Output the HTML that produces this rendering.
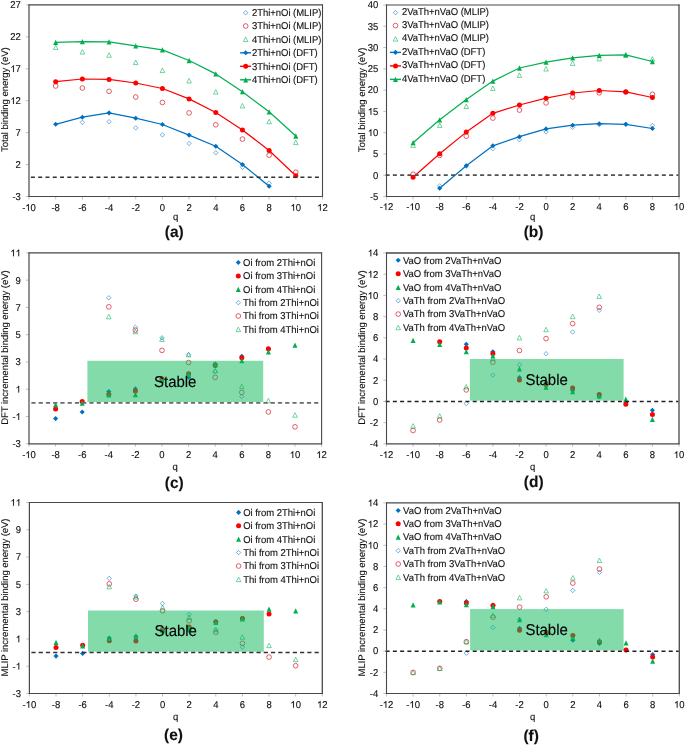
<!DOCTYPE html>
<html><head><meta charset="utf-8"><title>Binding energies</title><style>
html,body{margin:0;padding:0;background:#fff;width:685px;height:745px;overflow:hidden;}
svg{display:block;will-change:transform;text-rendering:geometricPrecision;font-family:"Liberation Sans",sans-serif;}
</style></head><body>
<svg width="685" height="745" viewBox="0 0 685 745" font-size="9.5" letter-spacing="-0.03" fill="#111">
<g stroke="none">
<defs>
<clipPath id="ca"><rect x="25" y="0.9" width="301.5" height="199.6"/></clipPath>
<clipPath id="cb"><rect x="382.5" y="1" width="300.5" height="199.5"/></clipPath>
<clipPath id="cc"><rect x="25" y="248.9" width="300.6" height="198.9"/></clipPath>
<clipPath id="cd"><rect x="382.5" y="249" width="300.5" height="198.8"/></clipPath>
<clipPath id="ce"><rect x="25.4" y="498.5" width="300.9" height="199"/></clipPath>
<clipPath id="cf"><rect x="382.5" y="498.9" width="300.8" height="198.6"/></clipPath>
</defs>
<rect width="685" height="745" fill="#fff"/>
<line x1="25.8" y1="196.5" x2="29" y2="196.5" stroke="#aeb2ba" stroke-width="0.8"/>
<text transform="translate(12.45 199.85) scale(1 1.04)" letter-spacing="0" stroke="#111" stroke-width="0.12">-3</text>
<line x1="25.8" y1="164.57" x2="29" y2="164.57" stroke="#aeb2ba" stroke-width="0.8"/>
<text transform="translate(15.62 167.92) scale(1 1.04)" letter-spacing="0" stroke="#111" stroke-width="0.12">2</text>
<line x1="25.8" y1="132.63" x2="29" y2="132.63" stroke="#aeb2ba" stroke-width="0.8"/>
<text transform="translate(15.62 135.98) scale(1 1.04)" letter-spacing="0" stroke="#111" stroke-width="0.12">7</text>
<line x1="25.8" y1="100.7" x2="29" y2="100.7" stroke="#aeb2ba" stroke-width="0.8"/>
<text transform="translate(10.33 104.05) scale(1 1.04)" letter-spacing="0" stroke="#111" stroke-width="0.12"> 2</text><path transform="translate(10.33 104.05) scale(0.004639 -0.004639)" d="M763 0L583 0L583 1147Q518 1085 412 1023Q305 961 220 930L220 1104Q370 1175 483 1276Q595 1377 642 1466L763 1466Z" stroke="#111" stroke-width="25.87"/>
<line x1="25.8" y1="68.77" x2="29" y2="68.77" stroke="#aeb2ba" stroke-width="0.8"/>
<text transform="translate(10.33 72.12) scale(1 1.04)" letter-spacing="0" stroke="#111" stroke-width="0.12"> 7</text><path transform="translate(10.33 72.12) scale(0.004639 -0.004639)" d="M763 0L583 0L583 1147Q518 1085 412 1023Q305 961 220 930L220 1104Q370 1175 483 1276Q595 1377 642 1466L763 1466Z" stroke="#111" stroke-width="25.87"/>
<line x1="25.8" y1="36.83" x2="29" y2="36.83" stroke="#aeb2ba" stroke-width="0.8"/>
<text transform="translate(10.33 40.18) scale(1 1.04)" letter-spacing="0" stroke="#111" stroke-width="0.12">22</text>
<line x1="25.8" y1="4.9" x2="29" y2="4.9" stroke="#aeb2ba" stroke-width="0.8"/>
<text transform="translate(10.33 8.25) scale(1 1.04)" letter-spacing="0" stroke="#111" stroke-width="0.12">27</text>
<line x1="29" y1="196.5" x2="29" y2="199.5" stroke="#aeb2ba" stroke-width="0.8"/>
<text transform="translate(22.13 210.7) scale(1 1.04)" letter-spacing="0" stroke="#111" stroke-width="0.12">- 0</text><path transform="translate(25.3 210.7) scale(0.004639 -0.004639)" d="M763 0L583 0L583 1147Q518 1085 412 1023Q305 961 220 930L220 1104Q370 1175 483 1276Q595 1377 642 1466L763 1466Z" stroke="#111" stroke-width="25.87"/>
<line x1="55.68" y1="196.5" x2="55.68" y2="199.5" stroke="#aeb2ba" stroke-width="0.8"/>
<text transform="translate(51.46 210.7) scale(1 1.04)" letter-spacing="0" stroke="#111" stroke-width="0.12">-8</text>
<line x1="82.36" y1="196.5" x2="82.36" y2="199.5" stroke="#aeb2ba" stroke-width="0.8"/>
<text transform="translate(78.14 210.7) scale(1 1.04)" letter-spacing="0" stroke="#111" stroke-width="0.12">-6</text>
<line x1="109.05" y1="196.5" x2="109.05" y2="199.5" stroke="#aeb2ba" stroke-width="0.8"/>
<text transform="translate(104.82 210.7) scale(1 1.04)" letter-spacing="0" stroke="#111" stroke-width="0.12">-4</text>
<line x1="135.73" y1="196.5" x2="135.73" y2="199.5" stroke="#aeb2ba" stroke-width="0.8"/>
<text transform="translate(131.5 210.7) scale(1 1.04)" letter-spacing="0" stroke="#111" stroke-width="0.12">-2</text>
<line x1="162.41" y1="196.5" x2="162.41" y2="199.5" stroke="#aeb2ba" stroke-width="0.8"/>
<text transform="translate(159.77 210.7) scale(1 1.04)" letter-spacing="0" stroke="#111" stroke-width="0.12">0</text>
<line x1="189.09" y1="196.5" x2="189.09" y2="199.5" stroke="#aeb2ba" stroke-width="0.8"/>
<text transform="translate(186.45 210.7) scale(1 1.04)" letter-spacing="0" stroke="#111" stroke-width="0.12">2</text>
<line x1="215.77" y1="196.5" x2="215.77" y2="199.5" stroke="#aeb2ba" stroke-width="0.8"/>
<text transform="translate(213.13 210.7) scale(1 1.04)" letter-spacing="0" stroke="#111" stroke-width="0.12">4</text>
<line x1="242.45" y1="196.5" x2="242.45" y2="199.5" stroke="#aeb2ba" stroke-width="0.8"/>
<text transform="translate(239.81 210.7) scale(1 1.04)" letter-spacing="0" stroke="#111" stroke-width="0.12">6</text>
<line x1="269.14" y1="196.5" x2="269.14" y2="199.5" stroke="#aeb2ba" stroke-width="0.8"/>
<text transform="translate(266.49 210.7) scale(1 1.04)" letter-spacing="0" stroke="#111" stroke-width="0.12">8</text>
<line x1="295.82" y1="196.5" x2="295.82" y2="199.5" stroke="#aeb2ba" stroke-width="0.8"/>
<text transform="translate(290.53 210.7) scale(1 1.04)" letter-spacing="0" stroke="#111" stroke-width="0.12"> 0</text><path transform="translate(290.53 210.7) scale(0.004639 -0.004639)" d="M763 0L583 0L583 1147Q518 1085 412 1023Q305 961 220 930L220 1104Q370 1175 483 1276Q595 1377 642 1466L763 1466Z" stroke="#111" stroke-width="25.87"/>
<line x1="322.5" y1="196.5" x2="322.5" y2="199.5" stroke="#aeb2ba" stroke-width="0.8"/>
<text transform="translate(317.22 210.7) scale(1 1.04)" letter-spacing="0" stroke="#111" stroke-width="0.12"> 2</text><path transform="translate(317.22 210.7) scale(0.004639 -0.004639)" d="M763 0L583 0L583 1147Q518 1085 412 1023Q305 961 220 930L220 1104Q370 1175 483 1276Q595 1377 642 1466L763 1466Z" stroke="#111" stroke-width="25.87"/>
<text transform="translate(7.6 99.7) rotate(-90)" text-anchor="middle" font-size="9.6" letter-spacing="-0.08" stroke="#111" stroke-width="0.1">Total binding energy (eV)</text>
<text transform="translate(175.5 219.6) scale(1 1.04)" text-anchor="middle" stroke="#111" stroke-width="0.12">q</text>
<text transform="translate(174.3 236.9) scale(1 1.02)" text-anchor="middle" font-weight="bold" font-size="15.5" letter-spacing="0" stroke="#111" stroke-width="0.12">(a)</text>
<g clip-path="url(#ca)">
<path d="M82.36 120.1L84.56 122.3L82.36 124.5L80.16 122.3Z" fill="none" stroke="#0070C0" stroke-width="0.55"/>
<path d="M109.05 119.5L111.25 121.7L109.05 123.9L106.85 121.7Z" fill="none" stroke="#0070C0" stroke-width="0.55"/>
<path d="M135.73 125.7L137.93 127.9L135.73 130.1L133.53 127.9Z" fill="none" stroke="#0070C0" stroke-width="0.55"/>
<path d="M162.41 132.7L164.61 134.9L162.41 137.1L160.21 134.9Z" fill="none" stroke="#0070C0" stroke-width="0.55"/>
<path d="M189.09 141.3L191.29 143.5L189.09 145.7L186.89 143.5Z" fill="none" stroke="#0070C0" stroke-width="0.55"/>
<path d="M215.77 150.6L217.97 152.8L215.77 155L213.57 152.8Z" fill="none" stroke="#0070C0" stroke-width="0.55"/>
<path d="M242.45 165.1L244.65 167.3L242.45 169.5L240.25 167.3Z" fill="none" stroke="#0070C0" stroke-width="0.55"/>
<path d="M269.14 181L271.34 183.2L269.14 185.4L266.94 183.2Z" fill="none" stroke="#0070C0" stroke-width="0.55"/>
<circle cx="55.68" cy="86" r="2.35" fill="none" stroke="#D41E2E" stroke-width="0.7"/>
<circle cx="82.36" cy="88" r="2.35" fill="none" stroke="#D41E2E" stroke-width="0.7"/>
<circle cx="109.05" cy="91.3" r="2.35" fill="none" stroke="#D41E2E" stroke-width="0.7"/>
<circle cx="135.73" cy="97" r="2.35" fill="none" stroke="#D41E2E" stroke-width="0.7"/>
<circle cx="162.41" cy="102.5" r="2.35" fill="none" stroke="#D41E2E" stroke-width="0.7"/>
<circle cx="189.09" cy="112.9" r="2.35" fill="none" stroke="#D41E2E" stroke-width="0.7"/>
<circle cx="215.77" cy="124.8" r="2.35" fill="none" stroke="#D41E2E" stroke-width="0.7"/>
<circle cx="242.45" cy="139.1" r="2.35" fill="none" stroke="#D41E2E" stroke-width="0.7"/>
<circle cx="269.14" cy="155.2" r="2.35" fill="none" stroke="#D41E2E" stroke-width="0.7"/>
<circle cx="295.82" cy="172.2" r="2.35" fill="none" stroke="#D41E2E" stroke-width="0.7"/>
<path d="M55.68 44.95L57.98 49.45L53.38 49.45Z" fill="none" stroke="#00B050" stroke-width="0.55" stroke-linejoin="miter"/>
<path d="M82.36 49.55L84.66 54.05L80.06 54.05Z" fill="none" stroke="#00B050" stroke-width="0.55" stroke-linejoin="miter"/>
<path d="M109.05 52.75L111.35 57.25L106.75 57.25Z" fill="none" stroke="#00B050" stroke-width="0.55" stroke-linejoin="miter"/>
<path d="M135.73 60.05L138.03 64.55L133.43 64.55Z" fill="none" stroke="#00B050" stroke-width="0.55" stroke-linejoin="miter"/>
<path d="M162.41 68.05L164.71 72.55L160.11 72.55Z" fill="none" stroke="#00B050" stroke-width="0.55" stroke-linejoin="miter"/>
<path d="M189.09 78.45L191.39 82.95L186.79 82.95Z" fill="none" stroke="#00B050" stroke-width="0.55" stroke-linejoin="miter"/>
<path d="M215.77 89.55L218.07 94.05L213.47 94.05Z" fill="none" stroke="#00B050" stroke-width="0.55" stroke-linejoin="miter"/>
<path d="M242.45 103.45L244.75 107.95L240.15 107.95Z" fill="none" stroke="#00B050" stroke-width="0.55" stroke-linejoin="miter"/>
<path d="M269.14 119.25L271.44 123.75L266.84 123.75Z" fill="none" stroke="#00B050" stroke-width="0.55" stroke-linejoin="miter"/>
<path d="M295.82 140.05L298.12 144.55L293.52 144.55Z" fill="none" stroke="#00B050" stroke-width="0.55" stroke-linejoin="miter"/>
<path d="M55.68 124.3 L82.36 117.2 L109.05 112.9 L135.73 118.2 L162.41 124.5 L189.09 135.1 L215.77 146.3 L242.45 164.5 L269.14 186.2" fill="none" stroke="#0070C0" stroke-width="1.22" stroke-linejoin="round"/>
<path d="M55.68 121.75L58.23 124.3L55.68 126.85L53.13 124.3Z" fill="#0070C0"/>
<path d="M82.36 114.65L84.91 117.2L82.36 119.75L79.81 117.2Z" fill="#0070C0"/>
<path d="M109.05 110.35L111.6 112.9L109.05 115.45L106.5 112.9Z" fill="#0070C0"/>
<path d="M135.73 115.65L138.28 118.2L135.73 120.75L133.18 118.2Z" fill="#0070C0"/>
<path d="M162.41 121.95L164.96 124.5L162.41 127.05L159.86 124.5Z" fill="#0070C0"/>
<path d="M189.09 132.55L191.64 135.1L189.09 137.65L186.54 135.1Z" fill="#0070C0"/>
<path d="M215.77 143.75L218.32 146.3L215.77 148.85L213.22 146.3Z" fill="#0070C0"/>
<path d="M242.45 161.95L245 164.5L242.45 167.05L239.9 164.5Z" fill="#0070C0"/>
<path d="M269.14 183.65L271.69 186.2L269.14 188.75L266.59 186.2Z" fill="#0070C0"/>
<path d="M55.68 81.7 L82.36 79 L109.05 79.4 L135.73 83 L162.41 88.5 L189.09 98.9 L215.77 112.5 L242.45 129.9 L269.14 150.5 L295.82 175.7" fill="none" stroke="#FF0000" stroke-width="1.22" stroke-linejoin="round"/>
<circle cx="55.68" cy="81.7" r="2.5" fill="#FF0000"/>
<circle cx="82.36" cy="79" r="2.5" fill="#FF0000"/>
<circle cx="109.05" cy="79.4" r="2.5" fill="#FF0000"/>
<circle cx="135.73" cy="83" r="2.5" fill="#FF0000"/>
<circle cx="162.41" cy="88.5" r="2.5" fill="#FF0000"/>
<circle cx="189.09" cy="98.9" r="2.5" fill="#FF0000"/>
<circle cx="215.77" cy="112.5" r="2.5" fill="#FF0000"/>
<circle cx="242.45" cy="129.9" r="2.5" fill="#FF0000"/>
<circle cx="269.14" cy="150.5" r="2.5" fill="#FF0000"/>
<circle cx="295.82" cy="175.7" r="2.5" fill="#FF0000"/>
<path d="M55.68 42.3 L82.36 41.6 L109.05 41.9 L135.73 45.9 L162.41 49.9 L189.09 60.5 L215.77 73.9 L242.45 91.7 L269.14 111.8 L295.82 136" fill="none" stroke="#00B050" stroke-width="1.22" stroke-linejoin="round"/>
<path d="M55.68 39.65L58.18 44.95L53.18 44.95Z" fill="#00B050"/>
<path d="M82.36 38.95L84.86 44.25L79.86 44.25Z" fill="#00B050"/>
<path d="M109.05 39.25L111.55 44.55L106.55 44.55Z" fill="#00B050"/>
<path d="M135.73 43.25L138.23 48.55L133.23 48.55Z" fill="#00B050"/>
<path d="M162.41 47.25L164.91 52.55L159.91 52.55Z" fill="#00B050"/>
<path d="M189.09 57.85L191.59 63.15L186.59 63.15Z" fill="#00B050"/>
<path d="M215.77 71.25L218.27 76.55L213.27 76.55Z" fill="#00B050"/>
<path d="M242.45 89.05L244.95 94.35L239.95 94.35Z" fill="#00B050"/>
<path d="M269.14 109.15L271.64 114.45L266.64 114.45Z" fill="#00B050"/>
<path d="M295.82 133.35L298.32 138.65L293.32 138.65Z" fill="#00B050"/>
</g>
<line x1="30.9" y1="177.3" x2="321.9" y2="177.3" stroke="#333" stroke-width="1.6" stroke-dasharray="4 3.283"/>
<line x1="29" y1="4.4" x2="29" y2="197" stroke="#46484e" stroke-width="1.2"/>
<line x1="28.5" y1="4.9" x2="323" y2="4.9" stroke="#46484e" stroke-width="1.2"/>
<line x1="322.5" y1="4.4" x2="322.5" y2="197" stroke="#46484e" stroke-width="1.1"/>
<line x1="28.5" y1="196.5" x2="323" y2="196.5" stroke="#46484e" stroke-width="1.1"/>
<path d="M245.7 10.6L247.9 12.8L245.7 15L243.5 12.8Z" fill="none" stroke="#0070C0" stroke-width="0.55"/>
<text transform="translate(251.9 16.15) scale(1 1.04)" stroke="#111" stroke-width="0.12">2Thi+nOi (MLIP)</text>
<circle cx="245.7" cy="26" r="2.35" fill="none" stroke="#D41E2E" stroke-width="0.7"/>
<text transform="translate(251.9 29.35) scale(1 1.04)" stroke="#111" stroke-width="0.12">3Thi+nOi (MLIP)</text>
<path d="M245.7 37.05L248 41.55L243.4 41.55Z" fill="none" stroke="#00B050" stroke-width="0.55" stroke-linejoin="miter"/>
<text transform="translate(251.9 42.65) scale(1 1.04)" stroke="#111" stroke-width="0.12">4Thi+nOi (MLIP)</text>
<line x1="240.1" y1="52.8" x2="251.1" y2="52.8" stroke="#0070C0" stroke-width="1.4"/>
<path d="M245.7 50.25L248.25 52.8L245.7 55.35L243.15 52.8Z" fill="#0070C0"/>
<text transform="translate(251.9 56.15) scale(1 1.04)" stroke="#111" stroke-width="0.12">2Thi+nOi (DFT)</text>
<line x1="240.1" y1="66.3" x2="251.1" y2="66.3" stroke="#FF0000" stroke-width="1.4"/>
<circle cx="245.7" cy="66.3" r="2.5" fill="#FF0000"/>
<text transform="translate(251.9 69.65) scale(1 1.04)" stroke="#111" stroke-width="0.12">3Thi+nOi (DFT)</text>
<line x1="240.1" y1="79.8" x2="251.1" y2="79.8" stroke="#00B050" stroke-width="1.4"/>
<path d="M245.7 77.15L248.2 82.45L243.2 82.45Z" fill="#00B050"/>
<text transform="translate(251.9 83.15) scale(1 1.04)" stroke="#111" stroke-width="0.12">4Thi+nOi (DFT)</text>
<line x1="383.3" y1="196.5" x2="386.5" y2="196.5" stroke="#aeb2ba" stroke-width="0.8"/>
<text transform="translate(369.95 199.85) scale(1 1.04)" letter-spacing="0" stroke="#111" stroke-width="0.12">-5</text>
<line x1="383.3" y1="175.22" x2="386.5" y2="175.22" stroke="#aeb2ba" stroke-width="0.8"/>
<text transform="translate(373.12 178.57) scale(1 1.04)" letter-spacing="0" stroke="#111" stroke-width="0.12">0</text>
<line x1="383.3" y1="153.94" x2="386.5" y2="153.94" stroke="#aeb2ba" stroke-width="0.8"/>
<text transform="translate(373.12 157.29) scale(1 1.04)" letter-spacing="0" stroke="#111" stroke-width="0.12">5</text>
<line x1="383.3" y1="132.67" x2="386.5" y2="132.67" stroke="#aeb2ba" stroke-width="0.8"/>
<text transform="translate(367.83 136.02) scale(1 1.04)" letter-spacing="0" stroke="#111" stroke-width="0.12"> 0</text><path transform="translate(367.83 136.02) scale(0.004639 -0.004639)" d="M763 0L583 0L583 1147Q518 1085 412 1023Q305 961 220 930L220 1104Q370 1175 483 1276Q595 1377 642 1466L763 1466Z" stroke="#111" stroke-width="25.87"/>
<line x1="383.3" y1="111.39" x2="386.5" y2="111.39" stroke="#aeb2ba" stroke-width="0.8"/>
<text transform="translate(367.83 114.74) scale(1 1.04)" letter-spacing="0" stroke="#111" stroke-width="0.12"> 5</text><path transform="translate(367.83 114.74) scale(0.004639 -0.004639)" d="M763 0L583 0L583 1147Q518 1085 412 1023Q305 961 220 930L220 1104Q370 1175 483 1276Q595 1377 642 1466L763 1466Z" stroke="#111" stroke-width="25.87"/>
<line x1="383.3" y1="90.11" x2="386.5" y2="90.11" stroke="#aeb2ba" stroke-width="0.8"/>
<text transform="translate(367.83 93.46) scale(1 1.04)" letter-spacing="0" stroke="#111" stroke-width="0.12">20</text>
<line x1="383.3" y1="68.83" x2="386.5" y2="68.83" stroke="#aeb2ba" stroke-width="0.8"/>
<text transform="translate(367.83 72.18) scale(1 1.04)" letter-spacing="0" stroke="#111" stroke-width="0.12">25</text>
<line x1="383.3" y1="47.56" x2="386.5" y2="47.56" stroke="#aeb2ba" stroke-width="0.8"/>
<text transform="translate(367.83 50.91) scale(1 1.04)" letter-spacing="0" stroke="#111" stroke-width="0.12">30</text>
<line x1="383.3" y1="26.28" x2="386.5" y2="26.28" stroke="#aeb2ba" stroke-width="0.8"/>
<text transform="translate(367.83 29.63) scale(1 1.04)" letter-spacing="0" stroke="#111" stroke-width="0.12">35</text>
<line x1="383.3" y1="5" x2="386.5" y2="5" stroke="#aeb2ba" stroke-width="0.8"/>
<text transform="translate(367.83 8.35) scale(1 1.04)" letter-spacing="0" stroke="#111" stroke-width="0.12">40</text>
<line x1="386.5" y1="196.5" x2="386.5" y2="199.5" stroke="#aeb2ba" stroke-width="0.8"/>
<text transform="translate(379.63 210.1) scale(1 1.04)" letter-spacing="0" stroke="#111" stroke-width="0.12">- 2</text><path transform="translate(382.8 210.1) scale(0.004639 -0.004639)" d="M763 0L583 0L583 1147Q518 1085 412 1023Q305 961 220 930L220 1104Q370 1175 483 1276Q595 1377 642 1466L763 1466Z" stroke="#111" stroke-width="25.87"/>
<line x1="413.09" y1="196.5" x2="413.09" y2="199.5" stroke="#aeb2ba" stroke-width="0.8"/>
<text transform="translate(406.23 210.1) scale(1 1.04)" letter-spacing="0" stroke="#111" stroke-width="0.12">- 0</text><path transform="translate(409.39 210.1) scale(0.004639 -0.004639)" d="M763 0L583 0L583 1147Q518 1085 412 1023Q305 961 220 930L220 1104Q370 1175 483 1276Q595 1377 642 1466L763 1466Z" stroke="#111" stroke-width="25.87"/>
<line x1="439.68" y1="196.5" x2="439.68" y2="199.5" stroke="#aeb2ba" stroke-width="0.8"/>
<text transform="translate(435.46 210.1) scale(1 1.04)" letter-spacing="0" stroke="#111" stroke-width="0.12">-8</text>
<line x1="466.27" y1="196.5" x2="466.27" y2="199.5" stroke="#aeb2ba" stroke-width="0.8"/>
<text transform="translate(462.05 210.1) scale(1 1.04)" letter-spacing="0" stroke="#111" stroke-width="0.12">-6</text>
<line x1="492.86" y1="196.5" x2="492.86" y2="199.5" stroke="#aeb2ba" stroke-width="0.8"/>
<text transform="translate(488.64 210.1) scale(1 1.04)" letter-spacing="0" stroke="#111" stroke-width="0.12">-4</text>
<line x1="519.45" y1="196.5" x2="519.45" y2="199.5" stroke="#aeb2ba" stroke-width="0.8"/>
<text transform="translate(515.23 210.1) scale(1 1.04)" letter-spacing="0" stroke="#111" stroke-width="0.12">-2</text>
<line x1="546.05" y1="196.5" x2="546.05" y2="199.5" stroke="#aeb2ba" stroke-width="0.8"/>
<text transform="translate(543.4 210.1) scale(1 1.04)" letter-spacing="0" stroke="#111" stroke-width="0.12">0</text>
<line x1="572.64" y1="196.5" x2="572.64" y2="199.5" stroke="#aeb2ba" stroke-width="0.8"/>
<text transform="translate(569.99 210.1) scale(1 1.04)" letter-spacing="0" stroke="#111" stroke-width="0.12">2</text>
<line x1="599.23" y1="196.5" x2="599.23" y2="199.5" stroke="#aeb2ba" stroke-width="0.8"/>
<text transform="translate(596.59 210.1) scale(1 1.04)" letter-spacing="0" stroke="#111" stroke-width="0.12">4</text>
<line x1="625.82" y1="196.5" x2="625.82" y2="199.5" stroke="#aeb2ba" stroke-width="0.8"/>
<text transform="translate(623.18 210.1) scale(1 1.04)" letter-spacing="0" stroke="#111" stroke-width="0.12">6</text>
<line x1="652.41" y1="196.5" x2="652.41" y2="199.5" stroke="#aeb2ba" stroke-width="0.8"/>
<text transform="translate(649.77 210.1) scale(1 1.04)" letter-spacing="0" stroke="#111" stroke-width="0.12">8</text>
<line x1="679" y1="196.5" x2="679" y2="199.5" stroke="#aeb2ba" stroke-width="0.8"/>
<text transform="translate(673.72 210.1) scale(1 1.04)" letter-spacing="0" stroke="#111" stroke-width="0.12"> 0</text><path transform="translate(673.72 210.1) scale(0.004639 -0.004639)" d="M763 0L583 0L583 1147Q518 1085 412 1023Q305 961 220 930L220 1104Q370 1175 483 1276Q595 1377 642 1466L763 1466Z" stroke="#111" stroke-width="25.87"/>
<text transform="translate(365.2 99.9) rotate(-90)" text-anchor="middle" font-size="9.6" letter-spacing="-0.08" stroke="#111" stroke-width="0.1">Total binding energy (eV)</text>
<text transform="translate(532.5 220) scale(1 1.04)" text-anchor="middle" stroke="#111" stroke-width="0.12">q</text>
<text transform="translate(533.6 236.6) scale(1 1.02)" text-anchor="middle" font-weight="bold" font-size="15.5" letter-spacing="0" stroke="#111" stroke-width="0.12">(b)</text>
<g clip-path="url(#cb)">
<path d="M439.68 183.7L441.88 185.9L439.68 188.1L437.48 185.9Z" fill="none" stroke="#0070C0" stroke-width="0.55"/>
<path d="M466.27 163.8L468.47 166L466.27 168.2L464.07 166Z" fill="none" stroke="#0070C0" stroke-width="0.55"/>
<path d="M492.86 146.5L495.06 148.7L492.86 150.9L490.66 148.7Z" fill="none" stroke="#0070C0" stroke-width="0.55"/>
<path d="M519.45 137.5L521.65 139.7L519.45 141.9L517.25 139.7Z" fill="none" stroke="#0070C0" stroke-width="0.55"/>
<path d="M546.05 129.8L548.25 132L546.05 134.2L543.85 132Z" fill="none" stroke="#0070C0" stroke-width="0.55"/>
<path d="M572.64 125.1L574.84 127.3L572.64 129.5L570.44 127.3Z" fill="none" stroke="#0070C0" stroke-width="0.55"/>
<path d="M599.23 122.3L601.43 124.5L599.23 126.7L597.03 124.5Z" fill="none" stroke="#0070C0" stroke-width="0.55"/>
<path d="M625.82 122.1L628.02 124.3L625.82 126.5L623.62 124.3Z" fill="none" stroke="#0070C0" stroke-width="0.55"/>
<path d="M652.41 123.3L654.61 125.5L652.41 127.7L650.21 125.5Z" fill="none" stroke="#0070C0" stroke-width="0.55"/>
<circle cx="413.09" cy="174.2" r="2.35" fill="none" stroke="#D41E2E" stroke-width="0.7"/>
<circle cx="439.68" cy="155.4" r="2.35" fill="none" stroke="#D41E2E" stroke-width="0.7"/>
<circle cx="466.27" cy="136.2" r="2.35" fill="none" stroke="#D41E2E" stroke-width="0.7"/>
<circle cx="492.86" cy="118.1" r="2.35" fill="none" stroke="#D41E2E" stroke-width="0.7"/>
<circle cx="519.45" cy="110.1" r="2.35" fill="none" stroke="#D41E2E" stroke-width="0.7"/>
<circle cx="546.05" cy="102.9" r="2.35" fill="none" stroke="#D41E2E" stroke-width="0.7"/>
<circle cx="572.64" cy="96.9" r="2.35" fill="none" stroke="#D41E2E" stroke-width="0.7"/>
<circle cx="599.23" cy="92.8" r="2.35" fill="none" stroke="#D41E2E" stroke-width="0.7"/>
<circle cx="625.82" cy="91.9" r="2.35" fill="none" stroke="#D41E2E" stroke-width="0.7"/>
<circle cx="652.41" cy="94.3" r="2.35" fill="none" stroke="#D41E2E" stroke-width="0.7"/>
<path d="M413.09 142.95L415.39 147.45L410.79 147.45Z" fill="none" stroke="#00B050" stroke-width="0.55" stroke-linejoin="miter"/>
<path d="M439.68 122.95L441.98 127.45L437.38 127.45Z" fill="none" stroke="#00B050" stroke-width="0.55" stroke-linejoin="miter"/>
<path d="M466.27 104.05L468.57 108.55L463.97 108.55Z" fill="none" stroke="#00B050" stroke-width="0.55" stroke-linejoin="miter"/>
<path d="M492.86 85.95L495.16 90.45L490.56 90.45Z" fill="none" stroke="#00B050" stroke-width="0.55" stroke-linejoin="miter"/>
<path d="M519.45 72.95L521.75 77.45L517.15 77.45Z" fill="none" stroke="#00B050" stroke-width="0.55" stroke-linejoin="miter"/>
<path d="M546.05 66.55L548.35 71.05L543.75 71.05Z" fill="none" stroke="#00B050" stroke-width="0.55" stroke-linejoin="miter"/>
<path d="M572.64 60.95L574.94 65.45L570.34 65.45Z" fill="none" stroke="#00B050" stroke-width="0.55" stroke-linejoin="miter"/>
<path d="M599.23 56.45L601.53 60.95L596.93 60.95Z" fill="none" stroke="#00B050" stroke-width="0.55" stroke-linejoin="miter"/>
<path d="M625.82 52.65L628.12 57.15L623.52 57.15Z" fill="none" stroke="#00B050" stroke-width="0.55" stroke-linejoin="miter"/>
<path d="M652.41 56.65L654.71 61.15L650.11 61.15Z" fill="none" stroke="#00B050" stroke-width="0.55" stroke-linejoin="miter"/>
<path d="M439.68 188.3 L466.27 165.8 L492.86 145.8 L519.45 136.7 L546.05 128.9 L572.64 125.2 L599.23 123.7 L625.82 124.3 L652.41 128.5" fill="none" stroke="#0070C0" stroke-width="1.22" stroke-linejoin="round"/>
<path d="M439.68 185.75L442.23 188.3L439.68 190.85L437.13 188.3Z" fill="#0070C0"/>
<path d="M466.27 163.25L468.82 165.8L466.27 168.35L463.72 165.8Z" fill="#0070C0"/>
<path d="M492.86 143.25L495.41 145.8L492.86 148.35L490.31 145.8Z" fill="#0070C0"/>
<path d="M519.45 134.15L522 136.7L519.45 139.25L516.9 136.7Z" fill="#0070C0"/>
<path d="M546.05 126.35L548.6 128.9L546.05 131.45L543.5 128.9Z" fill="#0070C0"/>
<path d="M572.64 122.65L575.19 125.2L572.64 127.75L570.09 125.2Z" fill="#0070C0"/>
<path d="M599.23 121.15L601.78 123.7L599.23 126.25L596.68 123.7Z" fill="#0070C0"/>
<path d="M625.82 121.75L628.37 124.3L625.82 126.85L623.27 124.3Z" fill="#0070C0"/>
<path d="M652.41 125.95L654.96 128.5L652.41 131.05L649.86 128.5Z" fill="#0070C0"/>
<path d="M413.09 177.3 L439.68 153.8 L466.27 132.1 L492.86 113.3 L519.45 105 L546.05 98.2 L572.64 93 L599.23 90.5 L625.82 91.9 L652.41 97.5" fill="none" stroke="#FF0000" stroke-width="1.22" stroke-linejoin="round"/>
<circle cx="413.09" cy="177.3" r="2.5" fill="#FF0000"/>
<circle cx="439.68" cy="153.8" r="2.5" fill="#FF0000"/>
<circle cx="466.27" cy="132.1" r="2.5" fill="#FF0000"/>
<circle cx="492.86" cy="113.3" r="2.5" fill="#FF0000"/>
<circle cx="519.45" cy="105" r="2.5" fill="#FF0000"/>
<circle cx="546.05" cy="98.2" r="2.5" fill="#FF0000"/>
<circle cx="572.64" cy="93" r="2.5" fill="#FF0000"/>
<circle cx="599.23" cy="90.5" r="2.5" fill="#FF0000"/>
<circle cx="625.82" cy="91.9" r="2.5" fill="#FF0000"/>
<circle cx="652.41" cy="97.5" r="2.5" fill="#FF0000"/>
<path d="M413.09 142.7 L439.68 119.8 L466.27 99.6 L492.86 81.1 L519.45 68 L546.05 62.1 L572.64 57.9 L599.23 55.4 L625.82 54.9 L652.41 61.5" fill="none" stroke="#00B050" stroke-width="1.22" stroke-linejoin="round"/>
<path d="M413.09 140.05L415.59 145.35L410.59 145.35Z" fill="#00B050"/>
<path d="M439.68 117.15L442.18 122.45L437.18 122.45Z" fill="#00B050"/>
<path d="M466.27 96.95L468.77 102.25L463.77 102.25Z" fill="#00B050"/>
<path d="M492.86 78.45L495.36 83.75L490.36 83.75Z" fill="#00B050"/>
<path d="M519.45 65.35L521.95 70.65L516.95 70.65Z" fill="#00B050"/>
<path d="M546.05 59.45L548.55 64.75L543.55 64.75Z" fill="#00B050"/>
<path d="M572.64 55.25L575.14 60.55L570.14 60.55Z" fill="#00B050"/>
<path d="M599.23 52.75L601.73 58.05L596.73 58.05Z" fill="#00B050"/>
<path d="M625.82 52.25L628.32 57.55L623.32 57.55Z" fill="#00B050"/>
<path d="M652.41 58.85L654.91 64.15L649.91 64.15Z" fill="#00B050"/>
</g>
<line x1="385.6" y1="175.1" x2="678.4" y2="175.1" stroke="#505050" stroke-width="1.7" stroke-dasharray="4 3.27"/>
<line x1="386.5" y1="4.5" x2="386.5" y2="197" stroke="#46484e" stroke-width="1.1"/>
<line x1="386" y1="5" x2="679.5" y2="5" stroke="#46484e" stroke-width="1.2"/>
<line x1="679" y1="4.5" x2="679" y2="197" stroke="#46484e" stroke-width="1.3"/>
<line x1="386" y1="196.5" x2="679.5" y2="196.5" stroke="#46484e" stroke-width="1.1"/>
<path d="M395.5 10.4L397.7 12.6L395.5 14.8L393.3 12.6Z" fill="none" stroke="#0070C0" stroke-width="0.55"/>
<text transform="translate(401.9 15.15) scale(1 1.04)" stroke="#111" stroke-width="0.12">2VaTh+nVaO (MLIP)</text>
<circle cx="395.5" cy="25.6" r="2.35" fill="none" stroke="#D41E2E" stroke-width="0.7"/>
<text transform="translate(401.9 28.15) scale(1 1.04)" stroke="#111" stroke-width="0.12">3VaTh+nVaO (MLIP)</text>
<path d="M395.5 36.65L397.8 41.15L393.2 41.15Z" fill="none" stroke="#00B050" stroke-width="0.55" stroke-linejoin="miter"/>
<text transform="translate(401.9 41.45) scale(1 1.04)" stroke="#111" stroke-width="0.12">4VaTh+nVaO (MLIP)</text>
<line x1="389.9" y1="52.4" x2="401" y2="52.4" stroke="#0070C0" stroke-width="1.4"/>
<path d="M395.5 49.85L398.05 52.4L395.5 54.95L392.95 52.4Z" fill="#0070C0"/>
<text transform="translate(401.9 54.95) scale(1 1.04)" stroke="#111" stroke-width="0.12">2VaTh+nVaO (DFT)</text>
<line x1="389.9" y1="65.9" x2="401" y2="65.9" stroke="#FF0000" stroke-width="1.4"/>
<circle cx="395.5" cy="65.9" r="2.5" fill="#FF0000"/>
<text transform="translate(401.9 68.45) scale(1 1.04)" stroke="#111" stroke-width="0.12">3VaTh+nVaO (DFT)</text>
<line x1="389.9" y1="79.4" x2="401" y2="79.4" stroke="#00B050" stroke-width="1.4"/>
<path d="M395.5 76.75L398 82.05L393 82.05Z" fill="#00B050"/>
<text transform="translate(401.9 81.95) scale(1 1.04)" stroke="#111" stroke-width="0.12">4VaTh+nVaO (DFT)</text>
<line x1="25.8" y1="443.8" x2="29" y2="443.8" stroke="#aeb2ba" stroke-width="0.8"/>
<text transform="translate(12.45 447.15) scale(1 1.04)" letter-spacing="0" stroke="#111" stroke-width="0.12">-3</text>
<line x1="25.8" y1="416.53" x2="29" y2="416.53" stroke="#aeb2ba" stroke-width="0.8"/>
<text transform="translate(12.45 419.88) scale(1 1.04)" letter-spacing="0" stroke="#111" stroke-width="0.12">- </text><path transform="translate(15.62 419.88) scale(0.004639 -0.004639)" d="M763 0L583 0L583 1147Q518 1085 412 1023Q305 961 220 930L220 1104Q370 1175 483 1276Q595 1377 642 1466L763 1466Z" stroke="#111" stroke-width="25.87"/>
<line x1="25.8" y1="389.26" x2="29" y2="389.26" stroke="#aeb2ba" stroke-width="0.8"/>
<text transform="translate(15.62 392.61) scale(1 1.04)" letter-spacing="0" stroke="#111" stroke-width="0.12"> </text><path transform="translate(15.62 392.61) scale(0.004639 -0.004639)" d="M763 0L583 0L583 1147Q518 1085 412 1023Q305 961 220 930L220 1104Q370 1175 483 1276Q595 1377 642 1466L763 1466Z" stroke="#111" stroke-width="25.87"/>
<line x1="25.8" y1="361.99" x2="29" y2="361.99" stroke="#aeb2ba" stroke-width="0.8"/>
<text transform="translate(15.62 365.34) scale(1 1.04)" letter-spacing="0" stroke="#111" stroke-width="0.12">3</text>
<line x1="25.8" y1="334.71" x2="29" y2="334.71" stroke="#aeb2ba" stroke-width="0.8"/>
<text transform="translate(15.62 338.06) scale(1 1.04)" letter-spacing="0" stroke="#111" stroke-width="0.12">5</text>
<line x1="25.8" y1="307.44" x2="29" y2="307.44" stroke="#aeb2ba" stroke-width="0.8"/>
<text transform="translate(15.62 310.79) scale(1 1.04)" letter-spacing="0" stroke="#111" stroke-width="0.12">7</text>
<line x1="25.8" y1="280.17" x2="29" y2="280.17" stroke="#aeb2ba" stroke-width="0.8"/>
<text transform="translate(15.62 283.52) scale(1 1.04)" letter-spacing="0" stroke="#111" stroke-width="0.12">9</text>
<line x1="25.8" y1="252.9" x2="29" y2="252.9" stroke="#aeb2ba" stroke-width="0.8"/>
<text transform="translate(10.33 256.25) scale(1 1.04)" letter-spacing="0" stroke="#111" stroke-width="0.12">  </text><path transform="translate(10.33 256.25) scale(0.004639 -0.004639)" d="M763 0L583 0L583 1147Q518 1085 412 1023Q305 961 220 930L220 1104Q370 1175 483 1276Q595 1377 642 1466L763 1466Z" stroke="#111" stroke-width="25.87"/><path transform="translate(15.62 256.25) scale(0.004639 -0.004639)" d="M763 0L583 0L583 1147Q518 1085 412 1023Q305 961 220 930L220 1104Q370 1175 483 1276Q595 1377 642 1466L763 1466Z" stroke="#111" stroke-width="25.87"/>
<line x1="29" y1="443.8" x2="29" y2="446.8" stroke="#aeb2ba" stroke-width="0.8"/>
<text transform="translate(22.13 458) scale(1 1.04)" letter-spacing="0" stroke="#111" stroke-width="0.12">- 0</text><path transform="translate(25.3 458) scale(0.004639 -0.004639)" d="M763 0L583 0L583 1147Q518 1085 412 1023Q305 961 220 930L220 1104Q370 1175 483 1276Q595 1377 642 1466L763 1466Z" stroke="#111" stroke-width="25.87"/>
<line x1="55.6" y1="443.8" x2="55.6" y2="446.8" stroke="#aeb2ba" stroke-width="0.8"/>
<text transform="translate(51.38 458) scale(1 1.04)" letter-spacing="0" stroke="#111" stroke-width="0.12">-8</text>
<line x1="82.2" y1="443.8" x2="82.2" y2="446.8" stroke="#aeb2ba" stroke-width="0.8"/>
<text transform="translate(77.98 458) scale(1 1.04)" letter-spacing="0" stroke="#111" stroke-width="0.12">-6</text>
<line x1="108.8" y1="443.8" x2="108.8" y2="446.8" stroke="#aeb2ba" stroke-width="0.8"/>
<text transform="translate(104.58 458) scale(1 1.04)" letter-spacing="0" stroke="#111" stroke-width="0.12">-4</text>
<line x1="135.4" y1="443.8" x2="135.4" y2="446.8" stroke="#aeb2ba" stroke-width="0.8"/>
<text transform="translate(131.18 458) scale(1 1.04)" letter-spacing="0" stroke="#111" stroke-width="0.12">-2</text>
<line x1="162" y1="443.8" x2="162" y2="446.8" stroke="#aeb2ba" stroke-width="0.8"/>
<text transform="translate(159.36 458) scale(1 1.04)" letter-spacing="0" stroke="#111" stroke-width="0.12">0</text>
<line x1="188.6" y1="443.8" x2="188.6" y2="446.8" stroke="#aeb2ba" stroke-width="0.8"/>
<text transform="translate(185.96 458) scale(1 1.04)" letter-spacing="0" stroke="#111" stroke-width="0.12">2</text>
<line x1="215.2" y1="443.8" x2="215.2" y2="446.8" stroke="#aeb2ba" stroke-width="0.8"/>
<text transform="translate(212.56 458) scale(1 1.04)" letter-spacing="0" stroke="#111" stroke-width="0.12">4</text>
<line x1="241.8" y1="443.8" x2="241.8" y2="446.8" stroke="#aeb2ba" stroke-width="0.8"/>
<text transform="translate(239.16 458) scale(1 1.04)" letter-spacing="0" stroke="#111" stroke-width="0.12">6</text>
<line x1="268.4" y1="443.8" x2="268.4" y2="446.8" stroke="#aeb2ba" stroke-width="0.8"/>
<text transform="translate(265.76 458) scale(1 1.04)" letter-spacing="0" stroke="#111" stroke-width="0.12">8</text>
<line x1="295" y1="443.8" x2="295" y2="446.8" stroke="#aeb2ba" stroke-width="0.8"/>
<text transform="translate(289.72 458) scale(1 1.04)" letter-spacing="0" stroke="#111" stroke-width="0.12"> 0</text><path transform="translate(289.72 458) scale(0.004639 -0.004639)" d="M763 0L583 0L583 1147Q518 1085 412 1023Q305 961 220 930L220 1104Q370 1175 483 1276Q595 1377 642 1466L763 1466Z" stroke="#111" stroke-width="25.87"/>
<line x1="321.6" y1="443.8" x2="321.6" y2="446.8" stroke="#aeb2ba" stroke-width="0.8"/>
<text transform="translate(316.32 458) scale(1 1.04)" letter-spacing="0" stroke="#111" stroke-width="0.12"> 2</text><path transform="translate(316.32 458) scale(0.004639 -0.004639)" d="M763 0L583 0L583 1147Q518 1085 412 1023Q305 961 220 930L220 1104Q370 1175 483 1276Q595 1377 642 1466L763 1466Z" stroke="#111" stroke-width="25.87"/>
<text transform="translate(7.5 347.6) rotate(-90)" text-anchor="middle" font-size="9.6" letter-spacing="-0.08" stroke="#111" stroke-width="0.1">DFT incremental binding energy (eV)</text>
<text transform="translate(175.1 470.4) scale(1 1.04)" text-anchor="middle" stroke="#111" stroke-width="0.12">q</text>
<text transform="translate(174.2 487.5) scale(1 1.02)" text-anchor="middle" font-weight="bold" font-size="15.5" letter-spacing="0" stroke="#111" stroke-width="0.12">(c)</text>
<g clip-path="url(#cc)">
<path d="M55.6 416.05L58.15 418.6L55.6 421.15L53.05 418.6Z" fill="#0070C0"/>
<path d="M82.2 409.45L84.75 412L82.2 414.55L79.65 412Z" fill="#0070C0"/>
<path d="M108.8 389.05L111.35 391.6L108.8 394.15L106.25 391.6Z" fill="#0070C0"/>
<path d="M135.4 386.35L137.95 388.9L135.4 391.45L132.85 388.9Z" fill="#0070C0"/>
<path d="M162 378.45L164.55 381L162 383.55L159.45 381Z" fill="#0070C0"/>
<path d="M188.6 374.95L191.15 377.5L188.6 380.05L186.05 377.5Z" fill="#0070C0"/>
<path d="M215.2 361.45L217.75 364L215.2 366.55L212.65 364Z" fill="#0070C0"/>
<path d="M241.8 353.65L244.35 356.2L241.8 358.75L239.25 356.2Z" fill="#0070C0"/>
<path d="M268.4 346.95L270.95 349.5L268.4 352.05L265.85 349.5Z" fill="#0070C0"/>
<circle cx="55.6" cy="408.9" r="2.5" fill="#FF0000"/>
<circle cx="82.2" cy="401.4" r="2.5" fill="#FF0000"/>
<circle cx="108.8" cy="394.5" r="2.5" fill="#FF0000"/>
<circle cx="135.4" cy="390.9" r="2.5" fill="#FF0000"/>
<circle cx="162" cy="378.8" r="2.5" fill="#FF0000"/>
<circle cx="188.6" cy="373.8" r="2.5" fill="#FF0000"/>
<circle cx="215.2" cy="365.5" r="2.5" fill="#FF0000"/>
<circle cx="241.8" cy="357.7" r="2.5" fill="#FF0000"/>
<circle cx="268.4" cy="348.8" r="2.5" fill="#FF0000"/>
<path d="M55.6 401.95L58.1 407.25L53.1 407.25Z" fill="#00B050"/>
<path d="M82.2 400.35L84.7 405.65L79.7 405.65Z" fill="#00B050"/>
<path d="M108.8 392.15L111.3 397.45L106.3 397.45Z" fill="#00B050"/>
<path d="M135.4 391.85L137.9 397.15L132.9 397.15Z" fill="#00B050"/>
<path d="M162 377.35L164.5 382.65L159.5 382.65Z" fill="#00B050"/>
<path d="M188.6 371.55L191.1 376.85L186.1 376.85Z" fill="#00B050"/>
<path d="M215.2 361.65L217.7 366.95L212.7 366.95Z" fill="#00B050"/>
<path d="M241.8 358.05L244.3 363.35L239.3 363.35Z" fill="#00B050"/>
<path d="M268.4 349.15L270.9 354.45L265.9 354.45Z" fill="#00B050"/>
<path d="M295 342.55L297.5 347.85L292.5 347.85Z" fill="#00B050"/>
<path d="M108.8 295.6L111 297.8L108.8 300L106.6 297.8Z" fill="none" stroke="#0070C0" stroke-width="0.55"/>
<path d="M135.4 325L137.6 327.2L135.4 329.4L133.2 327.2Z" fill="none" stroke="#0070C0" stroke-width="0.55"/>
<path d="M162 335.6L164.2 337.8L162 340L159.8 337.8Z" fill="none" stroke="#0070C0" stroke-width="0.55"/>
<path d="M188.6 352.5L190.8 354.7L188.6 356.9L186.4 354.7Z" fill="none" stroke="#0070C0" stroke-width="0.55"/>
<path d="M215.2 369.1L217.4 371.3L215.2 373.5L213 371.3Z" fill="none" stroke="#0070C0" stroke-width="0.55"/>
<path d="M241.8 394.4L244 396.6L241.8 398.8L239.6 396.6Z" fill="none" stroke="#0070C0" stroke-width="0.55"/>
<circle cx="108.8" cy="306.8" r="2.35" fill="none" stroke="#D41E2E" stroke-width="0.7"/>
<circle cx="135.4" cy="330.1" r="2.35" fill="none" stroke="#D41E2E" stroke-width="0.7"/>
<circle cx="162" cy="350.4" r="2.35" fill="none" stroke="#D41E2E" stroke-width="0.7"/>
<circle cx="188.6" cy="362.5" r="2.35" fill="none" stroke="#D41E2E" stroke-width="0.7"/>
<circle cx="215.2" cy="377.3" r="2.35" fill="none" stroke="#D41E2E" stroke-width="0.7"/>
<circle cx="241.8" cy="392.4" r="2.35" fill="none" stroke="#D41E2E" stroke-width="0.7"/>
<circle cx="268.4" cy="411.9" r="2.35" fill="none" stroke="#D41E2E" stroke-width="0.7"/>
<circle cx="295" cy="426.8" r="2.35" fill="none" stroke="#D41E2E" stroke-width="0.7"/>
<path d="M108.8 314.35L111.1 318.85L106.5 318.85Z" fill="none" stroke="#00B050" stroke-width="0.55" stroke-linejoin="miter"/>
<path d="M135.4 329.25L137.7 333.75L133.1 333.75Z" fill="none" stroke="#00B050" stroke-width="0.55" stroke-linejoin="miter"/>
<path d="M162 336.95L164.3 341.45L159.7 341.45Z" fill="none" stroke="#00B050" stroke-width="0.55" stroke-linejoin="miter"/>
<path d="M188.6 352.45L190.9 356.95L186.3 356.95Z" fill="none" stroke="#00B050" stroke-width="0.55" stroke-linejoin="miter"/>
<path d="M215.2 368.35L217.5 372.85L212.9 372.85Z" fill="none" stroke="#00B050" stroke-width="0.55" stroke-linejoin="miter"/>
<path d="M241.8 384.15L244.1 388.65L239.5 388.65Z" fill="none" stroke="#00B050" stroke-width="0.55" stroke-linejoin="miter"/>
<path d="M268.4 398.35L270.7 402.85L266.1 402.85Z" fill="none" stroke="#00B050" stroke-width="0.55" stroke-linejoin="miter"/>
<path d="M295 412.75L297.3 417.25L292.7 417.25Z" fill="none" stroke="#00B050" stroke-width="0.55" stroke-linejoin="miter"/>
</g>
<rect x="87.4" y="360.8" width="175.8" height="41.2" fill="#08B855" fill-opacity="0.5"/>
<line x1="31.4" y1="402.9" x2="321" y2="402.9" stroke="#6a6a6a" stroke-width="1.8" stroke-dasharray="4.2 3.05"/>
<text transform="translate(175.2 386.5) scale(1 1.04)" text-anchor="middle" font-size="15" fill="#000" stroke="#111" stroke-width="0.12">Stable</text>
<line x1="29" y1="252.4" x2="29" y2="444.3" stroke="#46484e" stroke-width="1.2"/>
<line x1="28.5" y1="252.9" x2="322.1" y2="252.9" stroke="#46484e" stroke-width="1.2"/>
<line x1="321.6" y1="252.4" x2="321.6" y2="444.3" stroke="#46484e" stroke-width="1.1"/>
<line x1="28.5" y1="443.8" x2="322.1" y2="443.8" stroke="#46484e" stroke-width="1.3"/>
<path d="M238.3 259.95L240.85 262.5L238.3 265.05L235.75 262.5Z" fill="#0070C0"/>
<text transform="translate(243.1 265.85) scale(1 1.04)" stroke="#111" stroke-width="0.12">Oi from 2Thi+nOi</text>
<circle cx="238.3" cy="275.9" r="2.5" fill="#FF0000"/>
<text transform="translate(243.1 279.25) scale(1 1.04)" stroke="#111" stroke-width="0.12">Oi from 3Thi+nOi</text>
<path d="M238.3 286.65L240.8 291.95L235.8 291.95Z" fill="#00B050"/>
<text transform="translate(243.1 292.65) scale(1 1.04)" stroke="#111" stroke-width="0.12">Oi from 4Thi+nOi</text>
<path d="M238.3 300.5L240.5 302.7L238.3 304.9L236.1 302.7Z" fill="none" stroke="#0070C0" stroke-width="0.55"/>
<text transform="translate(243.1 306.05) scale(1 1.04)" stroke="#111" stroke-width="0.12">Thi from 2Thi+nOi</text>
<circle cx="238.3" cy="316" r="2.35" fill="none" stroke="#D41E2E" stroke-width="0.7"/>
<text transform="translate(243.1 319.35) scale(1 1.04)" stroke="#111" stroke-width="0.12">Thi from 3Thi+nOi</text>
<path d="M238.3 327.15L240.6 331.65L236 331.65Z" fill="none" stroke="#00B050" stroke-width="0.55" stroke-linejoin="miter"/>
<text transform="translate(243.1 332.75) scale(1 1.04)" stroke="#111" stroke-width="0.12">Thi from 4Thi+nOi</text>
<line x1="383.3" y1="443.8" x2="386.5" y2="443.8" stroke="#aeb2ba" stroke-width="0.8"/>
<text transform="translate(369.85 447.15) scale(1 1.04)" letter-spacing="0" stroke="#111" stroke-width="0.12">-4</text>
<line x1="383.3" y1="422.6" x2="386.5" y2="422.6" stroke="#aeb2ba" stroke-width="0.8"/>
<text transform="translate(369.85 425.95) scale(1 1.04)" letter-spacing="0" stroke="#111" stroke-width="0.12">-2</text>
<line x1="383.3" y1="401.4" x2="386.5" y2="401.4" stroke="#aeb2ba" stroke-width="0.8"/>
<text transform="translate(373.02 404.75) scale(1 1.04)" letter-spacing="0" stroke="#111" stroke-width="0.12">0</text>
<line x1="383.3" y1="380.2" x2="386.5" y2="380.2" stroke="#aeb2ba" stroke-width="0.8"/>
<text transform="translate(373.02 383.55) scale(1 1.04)" letter-spacing="0" stroke="#111" stroke-width="0.12">2</text>
<line x1="383.3" y1="359" x2="386.5" y2="359" stroke="#aeb2ba" stroke-width="0.8"/>
<text transform="translate(373.02 362.35) scale(1 1.04)" letter-spacing="0" stroke="#111" stroke-width="0.12">4</text>
<line x1="383.3" y1="337.8" x2="386.5" y2="337.8" stroke="#aeb2ba" stroke-width="0.8"/>
<text transform="translate(373.02 341.15) scale(1 1.04)" letter-spacing="0" stroke="#111" stroke-width="0.12">6</text>
<line x1="383.3" y1="316.6" x2="386.5" y2="316.6" stroke="#aeb2ba" stroke-width="0.8"/>
<text transform="translate(373.02 319.95) scale(1 1.04)" letter-spacing="0" stroke="#111" stroke-width="0.12">8</text>
<line x1="383.3" y1="295.4" x2="386.5" y2="295.4" stroke="#aeb2ba" stroke-width="0.8"/>
<text transform="translate(367.73 298.75) scale(1 1.04)" letter-spacing="0" stroke="#111" stroke-width="0.12"> 0</text><path transform="translate(367.73 298.75) scale(0.004639 -0.004639)" d="M763 0L583 0L583 1147Q518 1085 412 1023Q305 961 220 930L220 1104Q370 1175 483 1276Q595 1377 642 1466L763 1466Z" stroke="#111" stroke-width="25.87"/>
<line x1="383.3" y1="274.2" x2="386.5" y2="274.2" stroke="#aeb2ba" stroke-width="0.8"/>
<text transform="translate(367.73 277.55) scale(1 1.04)" letter-spacing="0" stroke="#111" stroke-width="0.12"> 2</text><path transform="translate(367.73 277.55) scale(0.004639 -0.004639)" d="M763 0L583 0L583 1147Q518 1085 412 1023Q305 961 220 930L220 1104Q370 1175 483 1276Q595 1377 642 1466L763 1466Z" stroke="#111" stroke-width="25.87"/>
<line x1="383.3" y1="253" x2="386.5" y2="253" stroke="#aeb2ba" stroke-width="0.8"/>
<text transform="translate(367.73 256.35) scale(1 1.04)" letter-spacing="0" stroke="#111" stroke-width="0.12"> 4</text><path transform="translate(367.73 256.35) scale(0.004639 -0.004639)" d="M763 0L583 0L583 1147Q518 1085 412 1023Q305 961 220 930L220 1104Q370 1175 483 1276Q595 1377 642 1466L763 1466Z" stroke="#111" stroke-width="25.87"/>
<line x1="386.5" y1="443.8" x2="386.5" y2="446.8" stroke="#aeb2ba" stroke-width="0.8"/>
<text transform="translate(379.63 458) scale(1 1.04)" letter-spacing="0" stroke="#111" stroke-width="0.12">- 2</text><path transform="translate(382.8 458) scale(0.004639 -0.004639)" d="M763 0L583 0L583 1147Q518 1085 412 1023Q305 961 220 930L220 1104Q370 1175 483 1276Q595 1377 642 1466L763 1466Z" stroke="#111" stroke-width="25.87"/>
<line x1="413.09" y1="443.8" x2="413.09" y2="446.8" stroke="#aeb2ba" stroke-width="0.8"/>
<text transform="translate(406.23 458) scale(1 1.04)" letter-spacing="0" stroke="#111" stroke-width="0.12">- 0</text><path transform="translate(409.39 458) scale(0.004639 -0.004639)" d="M763 0L583 0L583 1147Q518 1085 412 1023Q305 961 220 930L220 1104Q370 1175 483 1276Q595 1377 642 1466L763 1466Z" stroke="#111" stroke-width="25.87"/>
<line x1="439.68" y1="443.8" x2="439.68" y2="446.8" stroke="#aeb2ba" stroke-width="0.8"/>
<text transform="translate(435.46 458) scale(1 1.04)" letter-spacing="0" stroke="#111" stroke-width="0.12">-8</text>
<line x1="466.27" y1="443.8" x2="466.27" y2="446.8" stroke="#aeb2ba" stroke-width="0.8"/>
<text transform="translate(462.05 458) scale(1 1.04)" letter-spacing="0" stroke="#111" stroke-width="0.12">-6</text>
<line x1="492.86" y1="443.8" x2="492.86" y2="446.8" stroke="#aeb2ba" stroke-width="0.8"/>
<text transform="translate(488.64 458) scale(1 1.04)" letter-spacing="0" stroke="#111" stroke-width="0.12">-4</text>
<line x1="519.45" y1="443.8" x2="519.45" y2="446.8" stroke="#aeb2ba" stroke-width="0.8"/>
<text transform="translate(515.23 458) scale(1 1.04)" letter-spacing="0" stroke="#111" stroke-width="0.12">-2</text>
<line x1="546.05" y1="443.8" x2="546.05" y2="446.8" stroke="#aeb2ba" stroke-width="0.8"/>
<text transform="translate(543.4 458) scale(1 1.04)" letter-spacing="0" stroke="#111" stroke-width="0.12">0</text>
<line x1="572.64" y1="443.8" x2="572.64" y2="446.8" stroke="#aeb2ba" stroke-width="0.8"/>
<text transform="translate(569.99 458) scale(1 1.04)" letter-spacing="0" stroke="#111" stroke-width="0.12">2</text>
<line x1="599.23" y1="443.8" x2="599.23" y2="446.8" stroke="#aeb2ba" stroke-width="0.8"/>
<text transform="translate(596.59 458) scale(1 1.04)" letter-spacing="0" stroke="#111" stroke-width="0.12">4</text>
<line x1="625.82" y1="443.8" x2="625.82" y2="446.8" stroke="#aeb2ba" stroke-width="0.8"/>
<text transform="translate(623.18 458) scale(1 1.04)" letter-spacing="0" stroke="#111" stroke-width="0.12">6</text>
<line x1="652.41" y1="443.8" x2="652.41" y2="446.8" stroke="#aeb2ba" stroke-width="0.8"/>
<text transform="translate(649.77 458) scale(1 1.04)" letter-spacing="0" stroke="#111" stroke-width="0.12">8</text>
<line x1="679" y1="443.8" x2="679" y2="446.8" stroke="#aeb2ba" stroke-width="0.8"/>
<text transform="translate(673.72 458) scale(1 1.04)" letter-spacing="0" stroke="#111" stroke-width="0.12"> 0</text><path transform="translate(673.72 458) scale(0.004639 -0.004639)" d="M763 0L583 0L583 1147Q518 1085 412 1023Q305 961 220 930L220 1104Q370 1175 483 1276Q595 1377 642 1466L763 1466Z" stroke="#111" stroke-width="25.87"/>
<text transform="translate(365 347.6) rotate(-90)" text-anchor="middle" font-size="9.6" letter-spacing="-0.08" stroke="#111" stroke-width="0.1">DFT incremental binding energy (eV)</text>
<text transform="translate(532.5 470.4) scale(1 1.04)" text-anchor="middle" stroke="#111" stroke-width="0.12">q</text>
<text transform="translate(533.7 487.4) scale(1 1.02)" text-anchor="middle" font-weight="bold" font-size="15.5" letter-spacing="0" stroke="#111" stroke-width="0.12">(d)</text>
<g clip-path="url(#cd)">
<path d="M466.27 341.75L468.82 344.3L466.27 346.85L463.72 344.3Z" fill="#0070C0"/>
<path d="M492.86 349.15L495.41 351.7L492.86 354.25L490.31 351.7Z" fill="#0070C0"/>
<path d="M519.45 374.95L522 377.5L519.45 380.05L516.9 377.5Z" fill="#0070C0"/>
<path d="M546.05 379.85L548.6 382.4L546.05 384.95L543.5 382.4Z" fill="#0070C0"/>
<path d="M572.64 387.95L575.19 390.5L572.64 393.05L570.09 390.5Z" fill="#0070C0"/>
<path d="M599.23 394.05L601.78 396.6L599.23 399.15L596.68 396.6Z" fill="#0070C0"/>
<path d="M625.82 399.95L628.37 402.5L625.82 405.05L623.27 402.5Z" fill="#0070C0"/>
<path d="M652.41 407.75L654.96 410.3L652.41 412.85L649.86 410.3Z" fill="#0070C0"/>
<circle cx="439.68" cy="341.7" r="2.5" fill="#FF0000"/>
<circle cx="466.27" cy="348" r="2.5" fill="#FF0000"/>
<circle cx="492.86" cy="353.4" r="2.5" fill="#FF0000"/>
<circle cx="519.45" cy="379.9" r="2.5" fill="#FF0000"/>
<circle cx="546.05" cy="384.4" r="2.5" fill="#FF0000"/>
<circle cx="572.64" cy="388" r="2.5" fill="#FF0000"/>
<circle cx="599.23" cy="394.4" r="2.5" fill="#FF0000"/>
<circle cx="625.82" cy="404.2" r="2.5" fill="#FF0000"/>
<circle cx="652.41" cy="414.4" r="2.5" fill="#FF0000"/>
<path d="M413.09 337.75L415.59 343.05L410.59 343.05Z" fill="#00B050"/>
<path d="M439.68 341.75L442.18 347.05L437.18 347.05Z" fill="#00B050"/>
<path d="M466.27 349.05L468.77 354.35L463.77 354.35Z" fill="#00B050"/>
<path d="M492.86 353.15L495.36 358.45L490.36 358.45Z" fill="#00B050"/>
<path d="M519.45 366.25L521.95 371.55L516.95 371.55Z" fill="#00B050"/>
<path d="M546.05 384.35L548.55 389.65L543.55 389.65Z" fill="#00B050"/>
<path d="M572.64 388.95L575.14 394.25L570.14 394.25Z" fill="#00B050"/>
<path d="M599.23 393.25L601.73 398.55L596.73 398.55Z" fill="#00B050"/>
<path d="M625.82 396.45L628.32 401.75L623.32 401.75Z" fill="#00B050"/>
<path d="M652.41 416.65L654.91 421.95L649.91 421.95Z" fill="#00B050"/>
<path d="M466.27 401.3L468.47 403.5L466.27 405.7L464.07 403.5Z" fill="none" stroke="#0070C0" stroke-width="0.55"/>
<path d="M492.86 372.9L495.06 375.1L492.86 377.3L490.66 375.1Z" fill="none" stroke="#0070C0" stroke-width="0.55"/>
<path d="M519.45 362.5L521.65 364.7L519.45 366.9L517.25 364.7Z" fill="none" stroke="#0070C0" stroke-width="0.55"/>
<path d="M546.05 351.5L548.25 353.7L546.05 355.9L543.85 353.7Z" fill="none" stroke="#0070C0" stroke-width="0.55"/>
<path d="M572.64 329.8L574.84 332L572.64 334.2L570.44 332Z" fill="none" stroke="#0070C0" stroke-width="0.55"/>
<path d="M599.23 308.1L601.43 310.3L599.23 312.5L597.03 310.3Z" fill="none" stroke="#0070C0" stroke-width="0.55"/>
<circle cx="413.09" cy="430.5" r="2.35" fill="none" stroke="#D41E2E" stroke-width="0.7"/>
<circle cx="439.68" cy="420" r="2.35" fill="none" stroke="#D41E2E" stroke-width="0.7"/>
<circle cx="466.27" cy="389.9" r="2.35" fill="none" stroke="#D41E2E" stroke-width="0.7"/>
<circle cx="492.86" cy="362.2" r="2.35" fill="none" stroke="#D41E2E" stroke-width="0.7"/>
<circle cx="519.45" cy="350.5" r="2.35" fill="none" stroke="#D41E2E" stroke-width="0.7"/>
<circle cx="546.05" cy="338.6" r="2.35" fill="none" stroke="#D41E2E" stroke-width="0.7"/>
<circle cx="572.64" cy="323.6" r="2.35" fill="none" stroke="#D41E2E" stroke-width="0.7"/>
<circle cx="599.23" cy="307.3" r="2.35" fill="none" stroke="#D41E2E" stroke-width="0.7"/>
<path d="M413.09 423.65L415.39 428.15L410.79 428.15Z" fill="none" stroke="#00B050" stroke-width="0.55" stroke-linejoin="miter"/>
<path d="M439.68 413.65L441.98 418.15L437.38 418.15Z" fill="none" stroke="#00B050" stroke-width="0.55" stroke-linejoin="miter"/>
<path d="M466.27 384.45L468.57 388.95L463.97 388.95Z" fill="none" stroke="#00B050" stroke-width="0.55" stroke-linejoin="miter"/>
<path d="M492.86 356.25L495.16 360.75L490.56 360.75Z" fill="none" stroke="#00B050" stroke-width="0.55" stroke-linejoin="miter"/>
<path d="M519.45 335.45L521.75 339.95L517.15 339.95Z" fill="none" stroke="#00B050" stroke-width="0.55" stroke-linejoin="miter"/>
<path d="M546.05 327.25L548.35 331.75L543.75 331.75Z" fill="none" stroke="#00B050" stroke-width="0.55" stroke-linejoin="miter"/>
<path d="M572.64 314.15L574.94 318.65L570.34 318.65Z" fill="none" stroke="#00B050" stroke-width="0.55" stroke-linejoin="miter"/>
<path d="M599.23 293.95L601.53 298.45L596.93 298.45Z" fill="none" stroke="#00B050" stroke-width="0.55" stroke-linejoin="miter"/>
</g>
<rect x="469.9" y="359" width="153.7" height="41.65" fill="#08B855" fill-opacity="0.5"/>
<line x1="385.6" y1="401.4" x2="678.4" y2="401.4" stroke="#222" stroke-width="1.5" stroke-dasharray="4 3.26"/>
<text transform="translate(546.6 384.8) scale(1 1.04)" text-anchor="middle" font-size="15" fill="#000" stroke="#111" stroke-width="0.12">Stable</text>
<line x1="386.5" y1="252.5" x2="386.5" y2="444.3" stroke="#46484e" stroke-width="1.1"/>
<line x1="386" y1="253" x2="679.5" y2="253" stroke="#46484e" stroke-width="1.3"/>
<line x1="679" y1="252.5" x2="679" y2="444.3" stroke="#46484e" stroke-width="1.3"/>
<line x1="386" y1="443.8" x2="679.5" y2="443.8" stroke="#46484e" stroke-width="1.3"/>
<path d="M398.2 257.75L400.75 260.3L398.2 262.85L395.65 260.3Z" fill="#0070C0"/>
<text transform="translate(402.9 263.65) scale(1 1.04)" stroke="#111" stroke-width="0.12">VaO from 2VaTh+nVaO</text>
<circle cx="398.2" cy="273.8" r="2.5" fill="#FF0000"/>
<text transform="translate(402.9 277.15) scale(1 1.04)" stroke="#111" stroke-width="0.12">VaO from 3VaTh+nVaO</text>
<path d="M398.2 284.65L400.7 289.95L395.7 289.95Z" fill="#00B050"/>
<text transform="translate(402.9 290.65) scale(1 1.04)" stroke="#111" stroke-width="0.12">VaO from 4VaTh+nVaO</text>
<path d="M398.2 298.6L400.4 300.8L398.2 303L396 300.8Z" fill="none" stroke="#0070C0" stroke-width="0.55"/>
<text transform="translate(402.9 304.15) scale(1 1.04)" stroke="#111" stroke-width="0.12">VaTh from 2VaTh+nVaO</text>
<circle cx="398.2" cy="314.1" r="2.35" fill="none" stroke="#D41E2E" stroke-width="0.7"/>
<text transform="translate(402.9 317.45) scale(1 1.04)" stroke="#111" stroke-width="0.12">VaTh from 3VaTh+nVaO</text>
<path d="M398.2 325.25L400.5 329.75L395.9 329.75Z" fill="none" stroke="#00B050" stroke-width="0.55" stroke-linejoin="miter"/>
<text transform="translate(402.9 330.85) scale(1 1.04)" stroke="#111" stroke-width="0.12">VaTh from 4VaTh+nVaO</text>
<line x1="26.2" y1="693.5" x2="29.4" y2="693.5" stroke="#aeb2ba" stroke-width="0.8"/>
<text transform="translate(12.55 696.85) scale(1 1.04)" letter-spacing="0" stroke="#111" stroke-width="0.12">-3</text>
<line x1="26.2" y1="666.21" x2="29.4" y2="666.21" stroke="#aeb2ba" stroke-width="0.8"/>
<text transform="translate(12.55 669.56) scale(1 1.04)" letter-spacing="0" stroke="#111" stroke-width="0.12">- </text><path transform="translate(15.72 669.56) scale(0.004639 -0.004639)" d="M763 0L583 0L583 1147Q518 1085 412 1023Q305 961 220 930L220 1104Q370 1175 483 1276Q595 1377 642 1466L763 1466Z" stroke="#111" stroke-width="25.87"/>
<line x1="26.2" y1="638.93" x2="29.4" y2="638.93" stroke="#aeb2ba" stroke-width="0.8"/>
<text transform="translate(15.72 642.28) scale(1 1.04)" letter-spacing="0" stroke="#111" stroke-width="0.12"> </text><path transform="translate(15.72 642.28) scale(0.004639 -0.004639)" d="M763 0L583 0L583 1147Q518 1085 412 1023Q305 961 220 930L220 1104Q370 1175 483 1276Q595 1377 642 1466L763 1466Z" stroke="#111" stroke-width="25.87"/>
<line x1="26.2" y1="611.64" x2="29.4" y2="611.64" stroke="#aeb2ba" stroke-width="0.8"/>
<text transform="translate(15.72 614.99) scale(1 1.04)" letter-spacing="0" stroke="#111" stroke-width="0.12">3</text>
<line x1="26.2" y1="584.36" x2="29.4" y2="584.36" stroke="#aeb2ba" stroke-width="0.8"/>
<text transform="translate(15.72 587.71) scale(1 1.04)" letter-spacing="0" stroke="#111" stroke-width="0.12">5</text>
<line x1="26.2" y1="557.07" x2="29.4" y2="557.07" stroke="#aeb2ba" stroke-width="0.8"/>
<text transform="translate(15.72 560.42) scale(1 1.04)" letter-spacing="0" stroke="#111" stroke-width="0.12">7</text>
<line x1="26.2" y1="529.79" x2="29.4" y2="529.79" stroke="#aeb2ba" stroke-width="0.8"/>
<text transform="translate(15.72 533.14) scale(1 1.04)" letter-spacing="0" stroke="#111" stroke-width="0.12">9</text>
<line x1="26.2" y1="502.5" x2="29.4" y2="502.5" stroke="#aeb2ba" stroke-width="0.8"/>
<text transform="translate(10.43 505.85) scale(1 1.04)" letter-spacing="0" stroke="#111" stroke-width="0.12">  </text><path transform="translate(10.43 505.85) scale(0.004639 -0.004639)" d="M763 0L583 0L583 1147Q518 1085 412 1023Q305 961 220 930L220 1104Q370 1175 483 1276Q595 1377 642 1466L763 1466Z" stroke="#111" stroke-width="25.87"/><path transform="translate(15.72 505.85) scale(0.004639 -0.004639)" d="M763 0L583 0L583 1147Q518 1085 412 1023Q305 961 220 930L220 1104Q370 1175 483 1276Q595 1377 642 1466L763 1466Z" stroke="#111" stroke-width="25.87"/>
<line x1="29.4" y1="693.5" x2="29.4" y2="696.5" stroke="#aeb2ba" stroke-width="0.8"/>
<text transform="translate(22.53 707.7) scale(1 1.04)" letter-spacing="0" stroke="#111" stroke-width="0.12">- 0</text><path transform="translate(25.7 707.7) scale(0.004639 -0.004639)" d="M763 0L583 0L583 1147Q518 1085 412 1023Q305 961 220 930L220 1104Q370 1175 483 1276Q595 1377 642 1466L763 1466Z" stroke="#111" stroke-width="25.87"/>
<line x1="56.03" y1="693.5" x2="56.03" y2="696.5" stroke="#aeb2ba" stroke-width="0.8"/>
<text transform="translate(51.8 707.7) scale(1 1.04)" letter-spacing="0" stroke="#111" stroke-width="0.12">-8</text>
<line x1="82.65" y1="693.5" x2="82.65" y2="696.5" stroke="#aeb2ba" stroke-width="0.8"/>
<text transform="translate(78.43 707.7) scale(1 1.04)" letter-spacing="0" stroke="#111" stroke-width="0.12">-6</text>
<line x1="109.28" y1="693.5" x2="109.28" y2="696.5" stroke="#aeb2ba" stroke-width="0.8"/>
<text transform="translate(105.06 707.7) scale(1 1.04)" letter-spacing="0" stroke="#111" stroke-width="0.12">-4</text>
<line x1="135.91" y1="693.5" x2="135.91" y2="696.5" stroke="#aeb2ba" stroke-width="0.8"/>
<text transform="translate(131.69 707.7) scale(1 1.04)" letter-spacing="0" stroke="#111" stroke-width="0.12">-2</text>
<line x1="162.54" y1="693.5" x2="162.54" y2="696.5" stroke="#aeb2ba" stroke-width="0.8"/>
<text transform="translate(159.89 707.7) scale(1 1.04)" letter-spacing="0" stroke="#111" stroke-width="0.12">0</text>
<line x1="189.16" y1="693.5" x2="189.16" y2="696.5" stroke="#aeb2ba" stroke-width="0.8"/>
<text transform="translate(186.52 707.7) scale(1 1.04)" letter-spacing="0" stroke="#111" stroke-width="0.12">2</text>
<line x1="215.79" y1="693.5" x2="215.79" y2="696.5" stroke="#aeb2ba" stroke-width="0.8"/>
<text transform="translate(213.15 707.7) scale(1 1.04)" letter-spacing="0" stroke="#111" stroke-width="0.12">4</text>
<line x1="242.42" y1="693.5" x2="242.42" y2="696.5" stroke="#aeb2ba" stroke-width="0.8"/>
<text transform="translate(239.78 707.7) scale(1 1.04)" letter-spacing="0" stroke="#111" stroke-width="0.12">6</text>
<line x1="269.05" y1="693.5" x2="269.05" y2="696.5" stroke="#aeb2ba" stroke-width="0.8"/>
<text transform="translate(266.4 707.7) scale(1 1.04)" letter-spacing="0" stroke="#111" stroke-width="0.12">8</text>
<line x1="295.67" y1="693.5" x2="295.67" y2="696.5" stroke="#aeb2ba" stroke-width="0.8"/>
<text transform="translate(290.39 707.7) scale(1 1.04)" letter-spacing="0" stroke="#111" stroke-width="0.12"> 0</text><path transform="translate(290.39 707.7) scale(0.004639 -0.004639)" d="M763 0L583 0L583 1147Q518 1085 412 1023Q305 961 220 930L220 1104Q370 1175 483 1276Q595 1377 642 1466L763 1466Z" stroke="#111" stroke-width="25.87"/>
<line x1="322.3" y1="693.5" x2="322.3" y2="696.5" stroke="#aeb2ba" stroke-width="0.8"/>
<text transform="translate(317.02 707.7) scale(1 1.04)" letter-spacing="0" stroke="#111" stroke-width="0.12"> 2</text><path transform="translate(317.02 707.7) scale(0.004639 -0.004639)" d="M763 0L583 0L583 1147Q518 1085 412 1023Q305 961 220 930L220 1104Q370 1175 483 1276Q595 1377 642 1466L763 1466Z" stroke="#111" stroke-width="25.87"/>
<text transform="translate(7.5 597.5) rotate(-90)" text-anchor="middle" font-size="9.6" letter-spacing="-0.08" stroke="#111" stroke-width="0.1">MLIP incremental binding energy (eV)</text>
<text transform="translate(175.5 720) scale(1 1.04)" text-anchor="middle" stroke="#111" stroke-width="0.12">q</text>
<text transform="translate(173.5 740.4) scale(1 1.02)" text-anchor="middle" font-weight="bold" font-size="15.5" letter-spacing="0" stroke="#111" stroke-width="0.12">(e)</text>
<g clip-path="url(#ce)">
<path d="M56.03 653.55L58.58 656.1L56.03 658.65L53.48 656.1Z" fill="#0070C0"/>
<path d="M82.65 650.85L85.2 653.4L82.65 655.95L80.1 653.4Z" fill="#0070C0"/>
<path d="M109.28 635.45L111.83 638L109.28 640.55L106.73 638Z" fill="#0070C0"/>
<path d="M135.91 634.05L138.46 636.6L135.91 639.15L133.36 636.6Z" fill="#0070C0"/>
<path d="M162.54 628.95L165.09 631.5L162.54 634.05L159.99 631.5Z" fill="#0070C0"/>
<path d="M189.16 628.25L191.71 630.8L189.16 633.35L186.61 630.8Z" fill="#0070C0"/>
<path d="M215.79 618.95L218.34 621.5L215.79 624.05L213.24 621.5Z" fill="#0070C0"/>
<path d="M242.42 615.75L244.97 618.3L242.42 620.85L239.87 618.3Z" fill="#0070C0"/>
<circle cx="56.03" cy="647.5" r="2.5" fill="#FF0000"/>
<circle cx="82.65" cy="645.2" r="2.5" fill="#FF0000"/>
<circle cx="109.28" cy="640.7" r="2.5" fill="#FF0000"/>
<circle cx="135.91" cy="641.1" r="2.5" fill="#FF0000"/>
<circle cx="162.54" cy="629.5" r="2.5" fill="#FF0000"/>
<circle cx="189.16" cy="627.1" r="2.5" fill="#FF0000"/>
<circle cx="215.79" cy="622" r="2.5" fill="#FF0000"/>
<circle cx="242.42" cy="618.4" r="2.5" fill="#FF0000"/>
<circle cx="269.05" cy="613.9" r="2.5" fill="#FF0000"/>
<path d="M56.03 639.75L58.53 645.05L53.53 645.05Z" fill="#00B050"/>
<path d="M82.65 643.15L85.15 648.45L80.15 648.45Z" fill="#00B050"/>
<path d="M109.28 635.65L111.78 640.95L106.78 640.95Z" fill="#00B050"/>
<path d="M135.91 633.35L138.41 638.65L133.41 638.65Z" fill="#00B050"/>
<path d="M162.54 627.85L165.04 633.15L160.04 633.15Z" fill="#00B050"/>
<path d="M189.16 625.35L191.66 630.65L186.66 630.65Z" fill="#00B050"/>
<path d="M215.79 619.75L218.29 625.05L213.29 625.05Z" fill="#00B050"/>
<path d="M242.42 616.15L244.92 621.45L239.92 621.45Z" fill="#00B050"/>
<path d="M269.05 606.55L271.55 611.85L266.55 611.85Z" fill="#00B050"/>
<path d="M295.67 608.15L298.17 613.45L293.17 613.45Z" fill="#00B050"/>
<path d="M109.28 576.2L111.48 578.4L109.28 580.6L107.08 578.4Z" fill="none" stroke="#0070C0" stroke-width="0.55"/>
<path d="M135.91 593.8L138.11 596L135.91 598.2L133.71 596Z" fill="none" stroke="#0070C0" stroke-width="0.55"/>
<path d="M162.54 601.3L164.74 603.5L162.54 605.7L160.34 603.5Z" fill="none" stroke="#0070C0" stroke-width="0.55"/>
<path d="M189.16 612.2L191.36 614.4L189.16 616.6L186.96 614.4Z" fill="none" stroke="#0070C0" stroke-width="0.55"/>
<path d="M215.79 627.6L217.99 629.8L215.79 632L213.59 629.8Z" fill="none" stroke="#0070C0" stroke-width="0.55"/>
<path d="M242.42 644.9L244.62 647.1L242.42 649.3L240.22 647.1Z" fill="none" stroke="#0070C0" stroke-width="0.55"/>
<circle cx="109.28" cy="583.9" r="2.35" fill="none" stroke="#D41E2E" stroke-width="0.7"/>
<circle cx="135.91" cy="599.2" r="2.35" fill="none" stroke="#D41E2E" stroke-width="0.7"/>
<circle cx="162.54" cy="610.8" r="2.35" fill="none" stroke="#D41E2E" stroke-width="0.7"/>
<circle cx="189.16" cy="620.8" r="2.35" fill="none" stroke="#D41E2E" stroke-width="0.7"/>
<circle cx="215.79" cy="632.4" r="2.35" fill="none" stroke="#D41E2E" stroke-width="0.7"/>
<circle cx="242.42" cy="643.3" r="2.35" fill="none" stroke="#D41E2E" stroke-width="0.7"/>
<circle cx="269.05" cy="657.1" r="2.35" fill="none" stroke="#D41E2E" stroke-width="0.7"/>
<circle cx="295.67" cy="665.7" r="2.35" fill="none" stroke="#D41E2E" stroke-width="0.7"/>
<path d="M109.28 584.35L111.58 588.85L106.98 588.85Z" fill="none" stroke="#00B050" stroke-width="0.55" stroke-linejoin="miter"/>
<path d="M135.91 594.55L138.21 599.05L133.61 599.05Z" fill="none" stroke="#00B050" stroke-width="0.55" stroke-linejoin="miter"/>
<path d="M162.54 605.15L164.84 609.65L160.24 609.65Z" fill="none" stroke="#00B050" stroke-width="0.55" stroke-linejoin="miter"/>
<path d="M189.16 614.95L191.46 619.45L186.86 619.45Z" fill="none" stroke="#00B050" stroke-width="0.55" stroke-linejoin="miter"/>
<path d="M215.79 627.55L218.09 632.05L213.49 632.05Z" fill="none" stroke="#00B050" stroke-width="0.55" stroke-linejoin="miter"/>
<path d="M242.42 634.75L244.72 639.25L240.12 639.25Z" fill="none" stroke="#00B050" stroke-width="0.55" stroke-linejoin="miter"/>
<path d="M269.05 643.15L271.35 647.65L266.75 647.65Z" fill="none" stroke="#00B050" stroke-width="0.55" stroke-linejoin="miter"/>
<path d="M295.67 657.15L297.97 661.65L293.37 661.65Z" fill="none" stroke="#00B050" stroke-width="0.55" stroke-linejoin="miter"/>
</g>
<rect x="88" y="610.5" width="175.8" height="41.25" fill="#08B855" fill-opacity="0.5"/>
<line x1="31.4" y1="652.5" x2="321.7" y2="652.5" stroke="#333" stroke-width="1.5" stroke-dasharray="4.2 3.06"/>
<text transform="translate(175.7 636) scale(1 1.04)" text-anchor="middle" font-size="15" fill="#000" stroke="#111" stroke-width="0.12">Stable</text>
<line x1="29.4" y1="502" x2="29.4" y2="694" stroke="#46484e" stroke-width="1.2"/>
<line x1="28.9" y1="502.5" x2="322.8" y2="502.5" stroke="#46484e" stroke-width="1.1"/>
<line x1="322.3" y1="502" x2="322.3" y2="694" stroke="#46484e" stroke-width="1.3"/>
<line x1="28.9" y1="693.5" x2="322.8" y2="693.5" stroke="#46484e" stroke-width="1.1"/>
<path d="M238.6 509.85L241.15 512.4L238.6 514.95L236.05 512.4Z" fill="#0070C0"/>
<text transform="translate(243.2 515.75) scale(1 1.04)" stroke="#111" stroke-width="0.12">Oi from 2Thi+nOi</text>
<circle cx="238.6" cy="525.8" r="2.5" fill="#FF0000"/>
<text transform="translate(243.2 529.15) scale(1 1.04)" stroke="#111" stroke-width="0.12">Oi from 3Thi+nOi</text>
<path d="M238.6 536.55L241.1 541.85L236.1 541.85Z" fill="#00B050"/>
<text transform="translate(243.2 542.55) scale(1 1.04)" stroke="#111" stroke-width="0.12">Oi from 4Thi+nOi</text>
<path d="M238.6 550.4L240.8 552.6L238.6 554.8L236.4 552.6Z" fill="none" stroke="#0070C0" stroke-width="0.55"/>
<text transform="translate(243.2 555.95) scale(1 1.04)" stroke="#111" stroke-width="0.12">Thi from 2Thi+nOi</text>
<circle cx="238.6" cy="566" r="2.35" fill="none" stroke="#D41E2E" stroke-width="0.7"/>
<text transform="translate(243.2 569.35) scale(1 1.04)" stroke="#111" stroke-width="0.12">Thi from 3Thi+nOi</text>
<path d="M238.6 577.15L240.9 581.65L236.3 581.65Z" fill="none" stroke="#00B050" stroke-width="0.55" stroke-linejoin="miter"/>
<text transform="translate(243.2 582.75) scale(1 1.04)" stroke="#111" stroke-width="0.12">Thi from 4Thi+nOi</text>
<line x1="383.3" y1="693.5" x2="386.5" y2="693.5" stroke="#aeb2ba" stroke-width="0.8"/>
<text transform="translate(369.85 696.85) scale(1 1.04)" letter-spacing="0" stroke="#111" stroke-width="0.12">-4</text>
<line x1="383.3" y1="672.32" x2="386.5" y2="672.32" stroke="#aeb2ba" stroke-width="0.8"/>
<text transform="translate(369.85 675.67) scale(1 1.04)" letter-spacing="0" stroke="#111" stroke-width="0.12">-2</text>
<line x1="383.3" y1="651.14" x2="386.5" y2="651.14" stroke="#aeb2ba" stroke-width="0.8"/>
<text transform="translate(373.02 654.49) scale(1 1.04)" letter-spacing="0" stroke="#111" stroke-width="0.12">0</text>
<line x1="383.3" y1="629.97" x2="386.5" y2="629.97" stroke="#aeb2ba" stroke-width="0.8"/>
<text transform="translate(373.02 633.32) scale(1 1.04)" letter-spacing="0" stroke="#111" stroke-width="0.12">2</text>
<line x1="383.3" y1="608.79" x2="386.5" y2="608.79" stroke="#aeb2ba" stroke-width="0.8"/>
<text transform="translate(373.02 612.14) scale(1 1.04)" letter-spacing="0" stroke="#111" stroke-width="0.12">4</text>
<line x1="383.3" y1="587.61" x2="386.5" y2="587.61" stroke="#aeb2ba" stroke-width="0.8"/>
<text transform="translate(373.02 590.96) scale(1 1.04)" letter-spacing="0" stroke="#111" stroke-width="0.12">6</text>
<line x1="383.3" y1="566.43" x2="386.5" y2="566.43" stroke="#aeb2ba" stroke-width="0.8"/>
<text transform="translate(373.02 569.78) scale(1 1.04)" letter-spacing="0" stroke="#111" stroke-width="0.12">8</text>
<line x1="383.3" y1="545.26" x2="386.5" y2="545.26" stroke="#aeb2ba" stroke-width="0.8"/>
<text transform="translate(367.73 548.61) scale(1 1.04)" letter-spacing="0" stroke="#111" stroke-width="0.12"> 0</text><path transform="translate(367.73 548.61) scale(0.004639 -0.004639)" d="M763 0L583 0L583 1147Q518 1085 412 1023Q305 961 220 930L220 1104Q370 1175 483 1276Q595 1377 642 1466L763 1466Z" stroke="#111" stroke-width="25.87"/>
<line x1="383.3" y1="524.08" x2="386.5" y2="524.08" stroke="#aeb2ba" stroke-width="0.8"/>
<text transform="translate(367.73 527.43) scale(1 1.04)" letter-spacing="0" stroke="#111" stroke-width="0.12"> 2</text><path transform="translate(367.73 527.43) scale(0.004639 -0.004639)" d="M763 0L583 0L583 1147Q518 1085 412 1023Q305 961 220 930L220 1104Q370 1175 483 1276Q595 1377 642 1466L763 1466Z" stroke="#111" stroke-width="25.87"/>
<line x1="383.3" y1="502.9" x2="386.5" y2="502.9" stroke="#aeb2ba" stroke-width="0.8"/>
<text transform="translate(367.73 506.25) scale(1 1.04)" letter-spacing="0" stroke="#111" stroke-width="0.12"> 4</text><path transform="translate(367.73 506.25) scale(0.004639 -0.004639)" d="M763 0L583 0L583 1147Q518 1085 412 1023Q305 961 220 930L220 1104Q370 1175 483 1276Q595 1377 642 1466L763 1466Z" stroke="#111" stroke-width="25.87"/>
<line x1="386.5" y1="693.5" x2="386.5" y2="696.5" stroke="#aeb2ba" stroke-width="0.8"/>
<text transform="translate(379.63 707.7) scale(1 1.04)" letter-spacing="0" stroke="#111" stroke-width="0.12">- 2</text><path transform="translate(382.8 707.7) scale(0.004639 -0.004639)" d="M763 0L583 0L583 1147Q518 1085 412 1023Q305 961 220 930L220 1104Q370 1175 483 1276Q595 1377 642 1466L763 1466Z" stroke="#111" stroke-width="25.87"/>
<line x1="413.12" y1="693.5" x2="413.12" y2="696.5" stroke="#aeb2ba" stroke-width="0.8"/>
<text transform="translate(406.25 707.7) scale(1 1.04)" letter-spacing="0" stroke="#111" stroke-width="0.12">- 0</text><path transform="translate(409.42 707.7) scale(0.004639 -0.004639)" d="M763 0L583 0L583 1147Q518 1085 412 1023Q305 961 220 930L220 1104Q370 1175 483 1276Q595 1377 642 1466L763 1466Z" stroke="#111" stroke-width="25.87"/>
<line x1="439.74" y1="693.5" x2="439.74" y2="696.5" stroke="#aeb2ba" stroke-width="0.8"/>
<text transform="translate(435.51 707.7) scale(1 1.04)" letter-spacing="0" stroke="#111" stroke-width="0.12">-8</text>
<line x1="466.35" y1="693.5" x2="466.35" y2="696.5" stroke="#aeb2ba" stroke-width="0.8"/>
<text transform="translate(462.13 707.7) scale(1 1.04)" letter-spacing="0" stroke="#111" stroke-width="0.12">-6</text>
<line x1="492.97" y1="693.5" x2="492.97" y2="696.5" stroke="#aeb2ba" stroke-width="0.8"/>
<text transform="translate(488.75 707.7) scale(1 1.04)" letter-spacing="0" stroke="#111" stroke-width="0.12">-4</text>
<line x1="519.59" y1="693.5" x2="519.59" y2="696.5" stroke="#aeb2ba" stroke-width="0.8"/>
<text transform="translate(515.37 707.7) scale(1 1.04)" letter-spacing="0" stroke="#111" stroke-width="0.12">-2</text>
<line x1="546.21" y1="693.5" x2="546.21" y2="696.5" stroke="#aeb2ba" stroke-width="0.8"/>
<text transform="translate(543.57 707.7) scale(1 1.04)" letter-spacing="0" stroke="#111" stroke-width="0.12">0</text>
<line x1="572.83" y1="693.5" x2="572.83" y2="696.5" stroke="#aeb2ba" stroke-width="0.8"/>
<text transform="translate(570.19 707.7) scale(1 1.04)" letter-spacing="0" stroke="#111" stroke-width="0.12">2</text>
<line x1="599.45" y1="693.5" x2="599.45" y2="696.5" stroke="#aeb2ba" stroke-width="0.8"/>
<text transform="translate(596.8 707.7) scale(1 1.04)" letter-spacing="0" stroke="#111" stroke-width="0.12">4</text>
<line x1="626.06" y1="693.5" x2="626.06" y2="696.5" stroke="#aeb2ba" stroke-width="0.8"/>
<text transform="translate(623.42 707.7) scale(1 1.04)" letter-spacing="0" stroke="#111" stroke-width="0.12">6</text>
<line x1="652.68" y1="693.5" x2="652.68" y2="696.5" stroke="#aeb2ba" stroke-width="0.8"/>
<text transform="translate(650.04 707.7) scale(1 1.04)" letter-spacing="0" stroke="#111" stroke-width="0.12">8</text>
<line x1="679.3" y1="693.5" x2="679.3" y2="696.5" stroke="#aeb2ba" stroke-width="0.8"/>
<text transform="translate(674.02 707.7) scale(1 1.04)" letter-spacing="0" stroke="#111" stroke-width="0.12"> 0</text><path transform="translate(674.02 707.7) scale(0.004639 -0.004639)" d="M763 0L583 0L583 1147Q518 1085 412 1023Q305 961 220 930L220 1104Q370 1175 483 1276Q595 1377 642 1466L763 1466Z" stroke="#111" stroke-width="25.87"/>
<text transform="translate(365 597.5) rotate(-90)" text-anchor="middle" font-size="9.6" letter-spacing="-0.08" stroke="#111" stroke-width="0.1">MLIP incremental binding energy (eV)</text>
<text transform="translate(532.5 720.4) scale(1 1.04)" text-anchor="middle" stroke="#111" stroke-width="0.12">q</text>
<text transform="translate(531.2 740.8) scale(1 1.02)" text-anchor="middle" font-weight="bold" font-size="15.5" letter-spacing="0" stroke="#111" stroke-width="0.12">(f)</text>
<g clip-path="url(#cf)">
<path d="M466.35 598.95L468.9 601.5L466.35 604.05L463.8 601.5Z" fill="#0070C0"/>
<path d="M492.97 602.45L495.52 605L492.97 607.55L490.42 605Z" fill="#0070C0"/>
<path d="M519.59 625.75L522.14 628.3L519.59 630.85L517.04 628.3Z" fill="#0070C0"/>
<path d="M546.21 629.45L548.76 632L546.21 634.55L543.66 632Z" fill="#0070C0"/>
<path d="M572.83 637.75L575.38 640.3L572.83 642.85L570.28 640.3Z" fill="#0070C0"/>
<path d="M599.45 640.85L602 643.4L599.45 645.95L596.9 643.4Z" fill="#0070C0"/>
<path d="M626.06 647.45L628.61 650L626.06 652.55L623.51 650Z" fill="#0070C0"/>
<path d="M652.68 652.05L655.23 654.6L652.68 657.15L650.13 654.6Z" fill="#0070C0"/>
<circle cx="439.74" cy="601.5" r="2.5" fill="#FF0000"/>
<circle cx="466.35" cy="602.9" r="2.5" fill="#FF0000"/>
<circle cx="492.97" cy="605.5" r="2.5" fill="#FF0000"/>
<circle cx="519.59" cy="630.3" r="2.5" fill="#FF0000"/>
<circle cx="546.21" cy="632.6" r="2.5" fill="#FF0000"/>
<circle cx="572.83" cy="635.6" r="2.5" fill="#FF0000"/>
<circle cx="599.45" cy="641.7" r="2.5" fill="#FF0000"/>
<circle cx="626.06" cy="649.9" r="2.5" fill="#FF0000"/>
<circle cx="652.68" cy="657.1" r="2.5" fill="#FF0000"/>
<path d="M413.12 602.25L415.62 607.55L410.62 607.55Z" fill="#00B050"/>
<path d="M439.74 599.25L442.24 604.55L437.24 604.55Z" fill="#00B050"/>
<path d="M466.35 601.85L468.85 607.15L463.85 607.15Z" fill="#00B050"/>
<path d="M492.97 603.95L495.47 609.25L490.47 609.25Z" fill="#00B050"/>
<path d="M519.59 616.85L522.09 622.15L517.09 622.15Z" fill="#00B050"/>
<path d="M546.21 631.95L548.71 637.25L543.71 637.25Z" fill="#00B050"/>
<path d="M572.83 635.05L575.33 640.35L570.33 640.35Z" fill="#00B050"/>
<path d="M599.45 637.65L601.95 642.95L596.95 642.95Z" fill="#00B050"/>
<path d="M626.06 640.15L628.56 645.45L623.56 645.45Z" fill="#00B050"/>
<path d="M652.68 658.55L655.18 663.85L650.18 663.85Z" fill="#00B050"/>
<path d="M466.35 651L468.55 653.2L466.35 655.4L464.15 653.2Z" fill="none" stroke="#0070C0" stroke-width="0.55"/>
<path d="M492.97 625.2L495.17 627.4L492.97 629.6L490.77 627.4Z" fill="none" stroke="#0070C0" stroke-width="0.55"/>
<path d="M519.59 617.3L521.79 619.5L519.59 621.7L517.39 619.5Z" fill="none" stroke="#0070C0" stroke-width="0.55"/>
<path d="M546.21 607.1L548.41 609.3L546.21 611.5L544.01 609.3Z" fill="none" stroke="#0070C0" stroke-width="0.55"/>
<path d="M572.83 588.3L575.03 590.5L572.83 592.7L570.63 590.5Z" fill="none" stroke="#0070C0" stroke-width="0.55"/>
<path d="M599.45 570.2L601.65 572.4L599.45 574.6L597.25 572.4Z" fill="none" stroke="#0070C0" stroke-width="0.55"/>
<circle cx="413.12" cy="672.4" r="2.35" fill="none" stroke="#D41E2E" stroke-width="0.7"/>
<circle cx="439.74" cy="668.3" r="2.35" fill="none" stroke="#D41E2E" stroke-width="0.7"/>
<circle cx="466.35" cy="641.7" r="2.35" fill="none" stroke="#D41E2E" stroke-width="0.7"/>
<circle cx="492.97" cy="617.2" r="2.35" fill="none" stroke="#D41E2E" stroke-width="0.7"/>
<circle cx="519.59" cy="607.1" r="2.35" fill="none" stroke="#D41E2E" stroke-width="0.7"/>
<circle cx="546.21" cy="596.8" r="2.35" fill="none" stroke="#D41E2E" stroke-width="0.7"/>
<circle cx="572.83" cy="583.1" r="2.35" fill="none" stroke="#D41E2E" stroke-width="0.7"/>
<circle cx="599.45" cy="569" r="2.35" fill="none" stroke="#D41E2E" stroke-width="0.7"/>
<path d="M413.12 670.15L415.42 674.65L410.82 674.65Z" fill="none" stroke="#00B050" stroke-width="0.55" stroke-linejoin="miter"/>
<path d="M439.74 666.05L442.04 670.55L437.44 670.55Z" fill="none" stroke="#00B050" stroke-width="0.55" stroke-linejoin="miter"/>
<path d="M466.35 639.45L468.65 643.95L464.05 643.95Z" fill="none" stroke="#00B050" stroke-width="0.55" stroke-linejoin="miter"/>
<path d="M492.97 612.95L495.27 617.45L490.67 617.45Z" fill="none" stroke="#00B050" stroke-width="0.55" stroke-linejoin="miter"/>
<path d="M519.59 595.45L521.89 599.95L517.29 599.95Z" fill="none" stroke="#00B050" stroke-width="0.55" stroke-linejoin="miter"/>
<path d="M546.21 588.45L548.51 592.95L543.91 592.95Z" fill="none" stroke="#00B050" stroke-width="0.55" stroke-linejoin="miter"/>
<path d="M572.83 575.55L575.13 580.05L570.53 580.05Z" fill="none" stroke="#00B050" stroke-width="0.55" stroke-linejoin="miter"/>
<path d="M599.45 558.05L601.75 562.55L597.15 562.55Z" fill="none" stroke="#00B050" stroke-width="0.55" stroke-linejoin="miter"/>
</g>
<rect x="470.1" y="609.1" width="153.5" height="41.35" fill="#08B855" fill-opacity="0.5"/>
<line x1="385.6" y1="651.2" x2="678.7" y2="651.2" stroke="#222" stroke-width="1.5" stroke-dasharray="4 3.26"/>
<text transform="translate(546.6 634.7) scale(1 1.04)" text-anchor="middle" font-size="15" fill="#000" stroke="#111" stroke-width="0.12">Stable</text>
<line x1="386.5" y1="502.4" x2="386.5" y2="694" stroke="#46484e" stroke-width="1.1"/>
<line x1="386" y1="502.9" x2="679.8" y2="502.9" stroke="#46484e" stroke-width="1.3"/>
<line x1="679.3" y1="502.4" x2="679.3" y2="694" stroke="#46484e" stroke-width="1.3"/>
<line x1="386" y1="693.5" x2="679.8" y2="693.5" stroke="#46484e" stroke-width="1.1"/>
<path d="M398.2 507.95L400.75 510.5L398.2 513.05L395.65 510.5Z" fill="#0070C0"/>
<text transform="translate(403.1 513.85) scale(1 1.04)" stroke="#111" stroke-width="0.12">VaO from 2VaTh+nVaO</text>
<circle cx="398.2" cy="523.8" r="2.5" fill="#FF0000"/>
<text transform="translate(403.1 527.15) scale(1 1.04)" stroke="#111" stroke-width="0.12">VaO from 3VaTh+nVaO</text>
<path d="M398.2 534.45L400.7 539.75L395.7 539.75Z" fill="#00B050"/>
<text transform="translate(403.1 540.45) scale(1 1.04)" stroke="#111" stroke-width="0.12">VaO from 4VaTh+nVaO</text>
<path d="M398.2 548.5L400.4 550.7L398.2 552.9L396 550.7Z" fill="none" stroke="#0070C0" stroke-width="0.55"/>
<text transform="translate(403.1 554.05) scale(1 1.04)" stroke="#111" stroke-width="0.12">VaTh from 2VaTh+nVaO</text>
<circle cx="398.2" cy="564" r="2.35" fill="none" stroke="#D41E2E" stroke-width="0.7"/>
<text transform="translate(403.1 567.35) scale(1 1.04)" stroke="#111" stroke-width="0.12">VaTh from 3VaTh+nVaO</text>
<path d="M398.2 575.05L400.5 579.55L395.9 579.55Z" fill="none" stroke="#00B050" stroke-width="0.55" stroke-linejoin="miter"/>
<text transform="translate(403.1 580.65) scale(1 1.04)" stroke="#111" stroke-width="0.12">VaTh from 4VaTh+nVaO</text>
</g></svg></body></html>
